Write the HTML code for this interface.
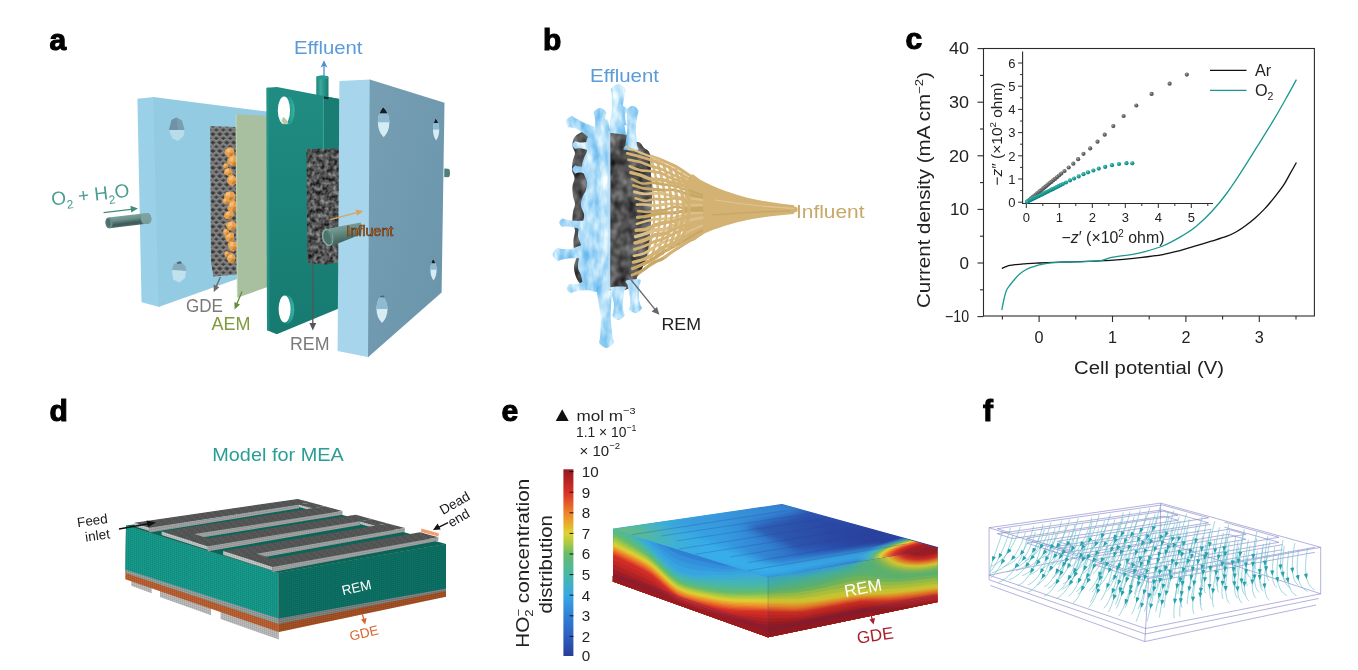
<!DOCTYPE html>
<html lang="en">
<head>
<meta charset="utf-8">
<title>Figure</title>
<style>
html,body{margin:0;padding:0;background:#fff;}
body{width:1358px;height:670px;overflow:hidden;font-family:"Liberation Sans",sans-serif;}
svg{display:block;position:absolute;left:0;top:0;}
svg text{font-family:"Liberation Sans",sans-serif;}
.lbl{font-weight:bold;font-size:30px;fill:#000;stroke:#000;stroke-width:1.1px;}
</style>
</head>
<body>
<svg width="1358" height="670" viewBox="0 0 1358 670">
<g id="panel-defs">
<defs>
<radialGradient id="gdot" cx="0.38" cy="0.35" r="0.7"><stop offset="0" stop-color="#a8a8a8"/><stop offset="0.45" stop-color="#6a6a6a"/><stop offset="1" stop-color="#3d3d3d"/></radialGradient>
<radialGradient id="tdot" cx="0.38" cy="0.35" r="0.7"><stop offset="0" stop-color="#5fd0c6"/><stop offset="0.45" stop-color="#17a096"/><stop offset="1" stop-color="#0a7a72"/></radialGradient>
</defs>
<defs>
<pattern id="gridL" width="2" height="2" patternUnits="userSpaceOnUse" patternTransform="matrix(1,0.3137,0,1,126,526)">
<path d="M0,0H2M0,0V2" stroke="#064a42" stroke-width="0.6" fill="none" opacity="0.55"/>
</pattern>
<pattern id="gridR" width="2" height="2" patternUnits="userSpaceOnUse" patternTransform="matrix(1,-0.174,0,1,278.8,573)">
<path d="M0,0H2M0,0V2" stroke="#02332d" stroke-width="0.6" fill="none" opacity="0.55"/>
</pattern>
<pattern id="gridLg" width="2" height="2" patternUnits="userSpaceOnUse" patternTransform="matrix(1,0.3137,0,1,126,526)">
<path d="M0,0H2M0,0V2" stroke="#555" stroke-width="0.5" fill="none" opacity="0.6"/>
</pattern>
<pattern id="gridRg" width="2" height="2" patternUnits="userSpaceOnUse" patternTransform="matrix(1,-0.174,0,1,278.8,573)">
<path d="M0,0H2M0,0V2" stroke="#444" stroke-width="0.5" fill="none" opacity="0.6"/>
</pattern>
<pattern id="gridTop" width="2.6" height="2.6" patternUnits="userSpaceOnUse" patternTransform="matrix(1,-0.146,1,0.3137,134,523)">
<path d="M0,0H2.6M0,0V2.6" stroke="#2e2e2e" stroke-width="0.5" fill="none" opacity="0.55"/>
</pattern>
</defs>

</g>
<g id="panel-a">
<defs>
<filter id="foam" x="0" y="0" width="1" height="1" color-interpolation-filters="sRGB">
<feTurbulence type="fractalNoise" baseFrequency="0.24 0.22" numOctaves="2" seed="4" result="t"/>
<feColorMatrix in="t" type="matrix" values="0.8 0 0 0 -0.08  0.8 0 0 0 -0.08  0.8 0 0 0 -0.08  0 0 0 0 1" result="g"/>
<feComposite in="g" in2="SourceGraphic" operator="in"/>
</filter>
<pattern id="weave" width="7" height="8.4" patternUnits="userSpaceOnUse" patternTransform="translate(209.6,125)">
<rect width="7" height="8.4" fill="#3a3a3a"/>
<path d="M-1,1.6 L3.2,4.4 M3.8,4.0 L8,1.2 M-1,8.6 L2.6,6.2 M3.4,6.0 L8,9.2 M-1,0.2 L1.6,-1.4 M5.4,-1 L8,0.8" stroke="#767676" stroke-width="2.5" stroke-linecap="round" fill="none"/>
<path d="M-0.4,1.2 L2.6,3.2 M4.4,2.9 L7.2,1.0 M3.8,5.6 L6.8,7.6 M-0.6,7.6 L2,5.8" stroke="#9b9b9b" stroke-width="0.9" stroke-linecap="round" fill="none"/>
</pattern>
<linearGradient id="aTeal" x1="0" y1="0" x2="0" y2="1"><stop offset="0" stop-color="#208c82"/><stop offset="1" stop-color="#167a70"/></linearGradient>
<linearGradient id="aRight" x1="0" y1="0" x2="1" y2="1"><stop offset="0" stop-color="#769fb4"/><stop offset="1" stop-color="#6a94aa"/></linearGradient>
<linearGradient id="aPipeV" x1="0" y1="0" x2="1" y2="0"><stop offset="0" stop-color="#1f8379"/><stop offset="0.35" stop-color="#3aa89b"/><stop offset="1" stop-color="#187a70"/></linearGradient>
<linearGradient id="aPipeH" x1="0" y1="0" x2="0" y2="1"><stop offset="0" stop-color="#7da19d"/><stop offset="0.35" stop-color="#6a8f8a"/><stop offset="0.75" stop-color="#3d5a57"/><stop offset="1" stop-color="#4b6b67"/></linearGradient>
<linearGradient id="aPipeI" x1="0" y1="0" x2="0.25" y2="1"><stop offset="0" stop-color="#84a8a3"/><stop offset="0.4" stop-color="#6d938d"/><stop offset="0.85" stop-color="#456560"/><stop offset="1" stop-color="#507570"/></linearGradient>
<linearGradient id="aHoleT" x1="0" y1="0" x2="1" y2="0"><stop offset="0" stop-color="#0f5f57"/><stop offset="0.6" stop-color="#1f9389"/><stop offset="1" stop-color="#3ab3a6"/></linearGradient>
</defs>
<path d="M137.4,98.8 L154,97 L159.3,307 L141.5,302.2Z" fill="#9bd1e8"/>
<path d="M153.2,97 L267,111.6 L267,268.4 L158.5,307Z" fill="#93cbe3"/>
<path d="M171.6,120 L176.5,117.6 L182,120.6 L184.6,130 L169,130 Z" fill="#7a9db0"/>
<path d="M169,130 L184.6,130 L183.6,136 L178,141 L172.4,138.6 Z" fill="#b9dcea"/>
<path d="M171.6,120 L176.5,117.6 L178,130 L169,130Z" fill="#6f93a6"/>
<path d="M173.6,264.4 L179.6,261 L185.6,266.6 L186,271 L172,270Z" fill="#86abbd"/>
<path d="M172,270 L186,271 L185,278 L179.6,282.6 L173,279.6Z" fill="#c1e1ee"/>
<path d="M176.6,262.2 L180.6,261.2 L182,263.4 L177.6,264Z" fill="#4b6a78"/>
<path d="M210.2,126.2 L236.6,127 L236.8,274.6 L213.4,276.4 L211,262Z" fill="url(#weave)"/>
<path d="M234.5,152.0 L233.5,155.3 L230.5,157.9 L227.0,156.3 L224.7,153.7 L224.6,150.2 L227.3,148.2 L230.4,147.0 L233.6,148.6Z" fill="#e7a04e"/>
<path d="M226.8,149.0 L230.9,148.2 L230.1,151.7 L226.5,152.6Z" fill="#f4bd7c"/>
<path d="M230.6,153.1 L233.9,152.6 L232.2,156.4 L228.9,155.8Z" fill="#c9802f"/>
<path d="M238.2,161.0 L235.7,164.2 L233.3,166.4 L230.4,165.3 L227.1,163.3 L227.3,158.8 L230.5,156.9 L233.6,153.9 L237.2,156.4Z" fill="#e7a04e"/>
<path d="M229.8,157.4 L233.9,156.4 L233.1,160.7 L229.5,161.7Z" fill="#f4bd7c"/>
<path d="M233.6,162.3 L236.9,161.7 L235.2,166.2 L231.9,165.6Z" fill="#c9802f"/>
<path d="M232.9,172.0 L231.7,175.1 L228.7,175.9 L226.2,175.1 L223.6,173.6 L224.5,170.7 L226.0,168.6 L228.7,168.0 L230.8,169.6Z" fill="#e7a04e"/>
<path d="M225.5,169.2 L229.2,168.5 L228.5,171.8 L225.2,172.5Z" fill="#f4bd7c"/>
<path d="M229.0,173.0 L232.0,172.5 L230.5,176.0 L227.5,175.5Z" fill="#c9802f"/>
<path d="M237.0,180.0 L235.8,183.5 L233.0,186.2 L229.4,184.8 L227.0,182.0 L227.2,178.1 L229.3,174.9 L232.9,174.7 L235.5,176.8Z" fill="#e7a04e"/>
<path d="M229.2,176.7 L233.4,175.8 L232.6,179.7 L229.0,180.6Z" fill="#f4bd7c"/>
<path d="M233.1,181.2 L236.4,180.6 L234.8,184.8 L231.4,184.2Z" fill="#c9802f"/>
<path d="M235.7,196.0 L234.1,200.3 L230.1,202.2 L226.0,201.2 L224.2,197.7 L224.4,194.3 L226.5,191.7 L229.8,191.6 L233.7,192.0Z" fill="#e7a04e"/>
<path d="M226.0,192.7 L230.5,191.8 L229.6,195.7 L225.7,196.6Z" fill="#f4bd7c"/>
<path d="M230.2,197.2 L233.8,196.6 L232.0,200.8 L228.4,200.2Z" fill="#c9802f"/>
<path d="M237.3,206.0 L237.0,210.4 L233.3,211.6 L229.5,212.2 L227.0,208.4 L228.8,204.4 L230.3,201.5 L233.5,199.1 L236.3,202.2Z" fill="#e7a04e"/>
<path d="M229.8,202.4 L233.9,201.4 L233.1,205.7 L229.5,206.7Z" fill="#f4bd7c"/>
<path d="M233.6,207.3 L236.9,206.7 L235.2,211.2 L231.9,210.6Z" fill="#c9802f"/>
<path d="M234.1,215.0 L231.9,217.8 L229.2,218.7 L226.1,219.2 L223.7,216.8 L224.6,213.6 L226.6,211.7 L229.2,210.8 L232.7,211.4Z" fill="#e7a04e"/>
<path d="M226.0,212.2 L229.8,211.5 L229.0,214.8 L225.8,215.5Z" fill="#f4bd7c"/>
<path d="M229.5,216.0 L232.5,215.5 L231.0,219.0 L228.0,218.5Z" fill="#c9802f"/>
<path d="M237.1,226.0 L234.5,229.0 L231.9,230.8 L228.7,230.0 L226.8,227.5 L225.1,223.9 L228.6,221.9 L232.0,220.4 L235.1,222.5Z" fill="#e7a04e"/>
<path d="M228.0,222.7 L232.5,221.8 L231.6,225.7 L227.7,226.6Z" fill="#f4bd7c"/>
<path d="M232.2,227.2 L235.8,226.6 L234.0,230.8 L230.4,230.2Z" fill="#c9802f"/>
<path d="M233.9,237.0 L233.8,240.6 L230.2,241.2 L226.8,241.7 L225.5,238.4 L224.9,235.3 L227.3,233.2 L230.3,232.5 L234.2,233.1Z" fill="#e7a04e"/>
<path d="M226.8,234.0 L230.9,233.2 L230.1,236.7 L226.5,237.6Z" fill="#f4bd7c"/>
<path d="M230.6,238.1 L233.9,237.6 L232.2,241.4 L228.9,240.8Z" fill="#c9802f"/>
<path d="M237.7,246.0 L235.7,249.2 L233.4,252.3 L230.5,250.2 L228.4,247.8 L227.5,243.8 L230.1,240.9 L233.2,241.5 L236.8,241.7Z" fill="#e7a04e"/>
<path d="M230.0,242.7 L233.8,241.8 L233.0,245.7 L229.8,246.6Z" fill="#f4bd7c"/>
<path d="M233.5,247.2 L236.5,246.6 L235.0,250.8 L232.0,250.2Z" fill="#c9802f"/>
<path d="M235.4,258.0 L234.5,260.9 L232.0,263.6 L228.7,262.1 L226.7,259.6 L227.1,256.6 L228.9,254.4 L231.9,252.8 L234.4,255.1Z" fill="#e7a04e"/>
<path d="M228.2,255.0 L232.4,254.2 L231.6,257.7 L228.0,258.6Z" fill="#f4bd7c"/>
<path d="M232.1,259.1 L235.4,258.6 L233.8,262.4 L230.4,261.9Z" fill="#c9802f"/>
<path d="M229.3,232.0 L228.3,234.0 L226.5,235.2 L224.1,235.4 L223.1,233.1 L223.0,230.8 L224.2,228.7 L226.5,229.2 L228.0,230.2Z" fill="#e7a04e"/>
<path d="M224.3,230.0 L226.8,229.5 L226.3,231.8 L224.1,232.4Z" fill="#f4bd7c"/>
<path d="M226.7,232.7 L228.7,232.4 L227.7,234.9 L225.7,234.5Z" fill="#c9802f"/>
<path d="M229.1,201.0 L228.2,203.4 L226.1,203.9 L224.3,203.5 L222.5,202.3 L222.3,199.7 L224.3,198.5 L226.2,197.1 L228.2,198.5Z" fill="#e7a04e"/>
<path d="M224.0,199.0 L226.4,198.5 L225.9,200.8 L223.8,201.4Z" fill="#f4bd7c"/>
<path d="M226.2,201.7 L228.2,201.4 L227.2,203.9 L225.3,203.5Z" fill="#c9802f"/>
<path d="M228.5,166.0 L227.6,167.8 L226.0,168.4 L224.5,168.0 L222.5,167.2 L223.3,165.1 L224.1,163.2 L226.0,163.4 L228.0,163.8Z" fill="#e7a04e"/>
<path d="M224.1,164.2 L226.3,163.8 L225.9,165.8 L223.9,166.3Z" fill="#f4bd7c"/>
<path d="M226.2,166.6 L228.0,166.3 L227.1,168.6 L225.3,168.2Z" fill="#c9802f"/>
<path d="M229.5,254.0 L228.5,255.7 L227.0,256.5 L225.1,256.8 L224.5,254.8 L224.3,253.1 L225.2,251.4 L227.2,250.7 L228.8,252.0Z" fill="#e7a04e"/>
<path d="M225.1,252.2 L227.3,251.8 L226.9,253.8 L224.9,254.3Z" fill="#f4bd7c"/>
<path d="M227.2,254.6 L229.0,254.3 L228.1,256.6 L226.3,256.2Z" fill="#c9802f"/>
<path d="M236.1,114 L267,115.9 L267,287.3 L237.4,297.7Z" fill="#a9c0a0"/>
<path d="M236.1,114 L237.4,297.7" stroke="#c4d6b4" stroke-width="1" fill="none"/>
<path d="M316.3,77.4 L316.3,96 L328.5,98 L328.5,77.4 A6.1,1.9 0 0 0 316.3,77.4Z" fill="url(#aPipeV)"/>
<ellipse cx="322.4" cy="77.4" rx="6.1" ry="1.9" fill="#2a9a8e"/>
<path d="M266.5,87.7 L276.9,87 L339.4,99 L339.4,308.2 L276.8,334.3 L267,330.2Z" fill="url(#aTeal)"/>
<path d="M266.5,87.7 L269,87.5 L269.6,331.3 L267,330.2Z" fill="#2b9a8f" opacity="0.6"/>
<path d="M323.1,95.9 L339.4,99 L339.4,150 L323.1,150Z" fill="#197d73"/>
<path d="M323.4,96 L323.4,150" stroke="#3aa597" stroke-width="1" fill="none"/>
<path d="M323.6,96.4 L329,97.4 L328,99.2 L324,98.6Z" fill="#0b2e2a"/>
<ellipse cx="286.7" cy="110.6" rx="8" ry="15" fill="url(#aHoleT)"/>
<path d="M284.8,96 A7,14.4 0 0 0 284.8,124.8 A5.4,14.4 0 0 1 284.8,96Z" fill="#fff"/>
<ellipse cx="284.4" cy="110.2" rx="5.6" ry="13.8" fill="#fff"/>
<path d="M281.5,121 Q284.6,126 288.6,123.6 Q286,118 283,117Z" fill="#b9c9a6"/>
<ellipse cx="286.5" cy="309.5" rx="7.8" ry="14.6" fill="url(#aHoleT)"/>
<ellipse cx="284.6" cy="309.0" rx="6.0" ry="13.6" fill="#fff"/>
<path d="M306.4,149 L339.4,148.4 L339.4,262 L326,264.4 L307.4,263Z" fill="#444" filter="url(#foam)"/>
<path d="M339.4,80.9 L370.5,79.4 L368.8,357.2 L337.6,350.9Z" fill="#a7d5eb"/>
<path d="M369.7,79.4 L444.5,102.8 L441.6,292.6 L368,357.2Z" fill="url(#aRight)"/>
<path d="M444.3,168.4 L448,168.7 A2,4.3 0 0 1 448,177.3 L444.2,177Z" fill="#4f7f7a"/>
<clipPath id="ah1"><path d="M383.2,107.3 Q389.4,113.3 389.4,122.3 Q389.4,131.3 383.7,137.3 Q377.9,131.3 377.9,122.3 Q377.9,113.3 383.2,107.3Z"/></clipPath><g clip-path="url(#ah1)"><rect x="376.9" y="106.3" width="13.5" height="32.0" fill="#d6ecf5"/><rect x="376.9" y="106.3" width="13.5" height="16.0" fill="#8fbad2"/><rect x="376.9" y="106.3" width="13.5" height="7.0" fill="#141e26"/></g>
<clipPath id="ah2"><path d="M435.6,118.6 Q439.2,123.0 439.2,129.6 Q439.2,136.2 436.1,140.6 Q433.0,136.2 433.0,129.6 Q433.0,123.0 435.6,118.6Z"/></clipPath><g clip-path="url(#ah2)"><rect x="432.0" y="117.6" width="8.3" height="24.0" fill="#d6ecf5"/><rect x="432.0" y="117.6" width="8.3" height="12.0" fill="#8fbad2"/><rect x="432.0" y="117.6" width="8.3" height="5.4" fill="#141e26"/></g>
<clipPath id="ah3"><path d="M381.5,295.0 Q387.5,300.6 387.5,309.0 Q387.5,317.4 382.0,323.0 Q376.5,317.4 376.5,309.0 Q376.5,300.6 381.5,295.0Z"/></clipPath><g clip-path="url(#ah3)"><rect x="375.5" y="294.0" width="13.0" height="30.0" fill="#d6ecf5"/><rect x="375.5" y="294.0" width="13.0" height="15.0" fill="#8fbad2"/></g>
<clipPath id="ah4"><path d="M433.0,258.9 Q436.6,263.2 436.6,269.7 Q436.6,276.1 433.5,280.4 Q430.4,276.1 430.4,269.7 Q430.4,263.2 433.0,258.9Z"/></clipPath><g clip-path="url(#ah4)"><rect x="429.4" y="257.9" width="8.3" height="23.5" fill="#d6ecf5"/><rect x="429.4" y="257.9" width="8.3" height="11.8" fill="#8fbad2"/><rect x="429.4" y="257.9" width="8.3" height="5.3" fill="#141e26"/></g>
<path d="M380.6,295.4 L383.6,295.6 L384.6,297.4 L379.6,297.2Z" fill="#4a6a7c"/>
<path d="M328.6,228.6 L360.7,222.4 Q362.6,228 361.2,234.2 L331.5,246Z" fill="url(#aPipeI)"/>
<ellipse cx="327.6" cy="237.4" rx="5.6" ry="9" transform="rotate(-14 327.6 237.4)" fill="#86aaa4"/>
<ellipse cx="327.9" cy="237.5" rx="4.3" ry="7.4" transform="rotate(-14 327.9 237.5)" fill="#4d726d"/>
<path d="M326,231.4 Q330.6,233 331.4,243.6 Q333.4,237 331,231.6Z" fill="#5f8782"/>
<path d="M324,76 L324,64" stroke="#4d8fd0" stroke-width="1.3" fill="none"/><path d="M324,60.2 L327.4,67.6 L324,65.8 L320.6,67.6Z" fill="#4d8fd0"/>
<text x="294" y="53.7" font-size="18.5" fill="#5b9bd8" textLength="68.5" lengthAdjust="spacingAndGlyphs">Effluent</text>
<g transform="rotate(-6.8 128 220.6)"><rect x="105.4" y="215.3" width="46" height="10.7" rx="3.4" ry="5.3" fill="url(#aPipeH)"/><rect x="105.4" y="215.3" width="7" height="10.7" rx="3" ry="5.3" fill="#6a8d89"/><ellipse cx="108.2" cy="220.6" rx="2.2" ry="4.4" fill="#4f706c"/><rect x="141" y="215.3" width="10.4" height="10.7" rx="3" ry="5.3" fill="#7fa5a3" opacity="0.9"/></g>
<path d="M103.6,212.6 L133,209.1" stroke="#3f8f7c" stroke-width="1.4" fill="none"/><path d="M138,208.5 L130.4,205.8 L131.2,212.6Z" fill="#3f8f7c"/>
<text transform="translate(52,205.6) rotate(-6.6)" font-size="19" fill="#4a9d93" textLength="78.5" lengthAdjust="spacingAndGlyphs">O<tspan font-size="12" dy="5">2</tspan><tspan dy="-5"> + H</tspan><tspan font-size="12" dy="5">2</tspan><tspan dy="-5">O</tspan></text>
<path d="M220.4,277 L215.6,288" stroke="#6b6b6b" stroke-width="1.4" fill="none"/><path d="M213.8,292 L213.6,284.6 L219.4,287.2Z" fill="#6b6b6b"/>
<text x="186" y="312" font-size="17.5" fill="#7a7a7a" textLength="37" lengthAdjust="spacingAndGlyphs">GDE</text>
<path d="M242,291.4 L236.4,305" stroke="#5f8f3c" stroke-width="1.3" fill="none"/><path d="M234.6,309.4 L234.4,302 L240,304.4Z" fill="#5f8f3c"/>
<text x="211.5" y="329.5" font-size="17.5" fill="#7d9a3e" textLength="39" lengthAdjust="spacingAndGlyphs">AEM</text>
<path d="M312.8,264.5 L312.8,325" stroke="#555" stroke-width="1.3" fill="none"/><path d="M312.8,330.6 L309.4,323 L316.2,323Z" fill="#555"/>
<text x="290" y="350.2" font-size="17.5" fill="#7a7a7a" textLength="39.5" lengthAdjust="spacingAndGlyphs">REM</text>
<path d="M330.3,219.6 L357.6,212.4" stroke="#d9a366" stroke-width="1.4" fill="none"/><path d="M363.2,211 L355.6,209.4 L357.2,215.8Z" fill="#d9a366"/>
<text x="346.3" y="235.6" font-size="14" fill="#d27f30" stroke="#5a2a0a" stroke-width="0.6" textLength="47" lengthAdjust="spacingAndGlyphs">Influent</text>
</g>
<g id="panel-b">
<defs>
<filter id="bBlue" x="-0.05" y="-0.05" width="1.1" height="1.1" color-interpolation-filters="sRGB">
<feTurbulence type="fractalNoise" baseFrequency="0.1 0.04" numOctaves="3" seed="8" result="t"/>
<feColorMatrix in="t" type="matrix" values="0.95 0 0 0 0.2  0.48 0 0 0 0.62  0.12 0 0 0 0.91  0 0 0 0 1" result="g"/>
<feComposite in="g" in2="SourceGraphic" operator="in"/>
</filter>
<filter id="bGray" x="-0.05" y="-0.05" width="1.1" height="1.1" color-interpolation-filters="sRGB">
<feTurbulence type="fractalNoise" baseFrequency="0.11 0.09" numOctaves="2" seed="2" result="t"/>
<feColorMatrix in="t" type="matrix" values="0.6 0 0 0 0.02  0.6 0 0 0 0.02  0.6 0 0 0 0.025  0 0 0 0 1" result="g"/>
<feComposite in="g" in2="SourceGraphic" operator="in"/>
</filter>
</defs>
<path d="M588.0,131.0 C583.0,131.0 582.3,131.8 580.0,133.0 C577.7,134.2 575.2,135.8 574.0,138.0 C572.8,140.2 572.3,143.5 572.5,146.0 C572.7,148.5 574.9,150.7 575.0,153.0 C575.1,155.3 573.5,157.2 573.0,160.0 C572.5,162.8 571.8,167.0 572.0,170.0 C572.2,173.0 574.4,175.3 574.5,178.0 C574.6,180.7 572.8,183.0 572.5,186.0 C572.2,189.0 572.6,193.0 573.0,196.0 C573.4,199.0 575.0,201.3 575.0,204.0 C575.0,206.7 573.4,209.0 573.0,212.0 C572.6,215.0 572.2,219.0 572.5,222.0 C572.8,225.0 574.8,227.0 575.0,230.0 C575.2,233.0 573.7,236.7 573.5,240.0 C573.3,243.3 573.6,247.0 574.0,250.0 C574.4,253.0 576.0,255.3 576.0,258.0 C576.0,260.7 574.2,263.3 574.0,266.0 C573.8,268.7 574.3,271.5 575.0,274.0 C575.7,276.5 576.5,278.8 578.0,281.0 C579.5,283.2 581.7,285.7 584.0,287.0 C586.3,288.3 589.3,288.7 592.0,289.0 C594.7,289.3 597.0,288.8 600.0,289.0 C603.0,289.2 606.3,289.8 610.0,290.0 C613.7,290.2 618.7,290.3 622.0,290.0 C625.3,289.7 627.8,289.2 630.0,288.0 C632.2,286.8 633.8,284.8 635.0,283.0 C636.2,281.2 636.0,279.2 637.0,277.0 C638.0,274.8 639.7,272.5 641.0,270.0 C642.3,267.5 643.8,265.3 645.0,262.0 C646.2,258.7 647.2,254.5 648.0,250.0 C648.8,245.5 649.5,240.8 650.0,235.0 C650.5,229.2 650.7,221.7 651.0,215.0 C651.3,208.3 652.0,201.7 652.0,195.0 C652.0,188.3 651.3,180.8 651.0,175.0 C650.7,169.2 650.3,163.8 650.0,160.0 C649.7,156.2 650.0,154.0 649.0,152.0 C648.0,150.0 645.5,149.5 644.0,148.0 C642.5,146.5 641.7,144.2 640.0,143.0 C638.3,141.8 636.0,142.2 634.0,141.0 C632.0,139.8 630.3,137.2 628.0,136.0 C625.7,134.8 623.0,134.5 620.0,134.0 C617.0,133.5 615.3,133.5 610.0,133.0 C604.7,132.5 593.0,131.0 588.0,131.0Z" fill="#444" filter="url(#bGray)"/>
<path d="M684.0,208.0 C684.0,197.2 686.5,179.6 690.0,175.5 C693.5,171.4 700.2,181.3 705.0,183.7 C709.8,186.1 714.3,188.1 719.0,190.0 C723.7,191.9 728.7,193.5 733.4,195.0 C738.1,196.5 742.3,197.8 747.0,199.0 C751.7,200.2 756.6,201.2 761.8,202.1 C767.0,203.0 772.8,203.9 778.0,204.6 C783.2,205.3 789.9,206.0 793.0,206.4 C796.1,206.8 796.0,206.7 796.8,207.2 C797.6,207.7 797.6,208.7 797.6,209.5 C797.6,210.3 797.6,211.3 796.8,211.8 C796.0,212.3 796.1,212.2 793.0,212.6 C789.9,213.0 783.2,213.6 778.0,214.2 C772.8,214.8 767.0,215.5 761.8,216.3 C756.6,217.1 751.7,217.9 747.0,218.8 C742.3,219.8 738.1,220.7 733.4,222.0 C728.7,223.3 723.7,224.8 719.0,226.5 C714.3,228.2 709.8,229.7 705.0,231.9 C700.2,234.2 693.5,244.0 690.0,240.0 C686.5,236.0 684.0,218.8 684.0,208.0Z" fill="#d3b273"/>
<path d="M626.0,147.0 C627.9,147.7 633.4,149.8 637.1,151.3 C640.8,152.8 644.5,154.3 648.2,155.8 C651.9,157.3 655.6,158.8 659.3,160.2 C663.0,161.7 666.1,162.3 670.4,164.4 C674.7,166.6 679.9,170.2 685.2,173.2 C690.5,176.1 699.2,180.6 702.0,182.1" fill="none" stroke="#dcc088" stroke-width="2.3" stroke-linecap="round"/>
<path d="M627.2,153.4 C629.0,153.9 634.5,155.2 638.1,156.2 C641.8,157.2 645.4,158.2 649.0,159.4 C652.7,160.6 656.3,161.8 660.0,163.3 C663.6,164.8 666.6,165.9 670.9,168.2 C675.1,170.4 680.3,174.0 685.4,176.7 C690.6,179.5 699.2,183.3 702.0,184.6" fill="none" stroke="#d3b273" stroke-width="2.8" stroke-linecap="round"/>
<path d="M628.4,159.8 C630.2,160.1 635.6,160.8 639.1,161.8 C642.7,162.8 646.3,164.5 649.9,165.7 C653.5,166.9 657.0,167.4 660.6,168.8 C664.2,170.2 667.2,172.2 671.4,174.1 C675.5,176.0 680.6,178.0 685.7,180.2 C690.8,182.4 699.3,186.0 702.0,187.2" fill="none" stroke="#d3b273" stroke-width="2.5" stroke-linecap="round"/>
<path d="M629.6,166.2 C631.4,166.9 636.6,169.4 640.2,170.2 C643.7,171.0 647.2,170.6 650.7,171.1 C654.2,171.6 657.8,172.0 661.3,173.2 C664.8,174.4 667.7,176.9 671.8,178.5 C675.9,180.1 680.9,180.8 685.9,182.7 C690.9,184.6 699.3,188.6 702.0,189.8" fill="none" stroke="#d3b273" stroke-width="2.6" stroke-linecap="round"/>
<path d="M630.8,172.6 C632.5,173.1 637.7,174.2 641.2,175.3 C644.6,176.4 648.1,178.6 651.6,179.3 C655.0,180.0 658.5,179.2 661.9,179.8 C665.4,180.3 668.3,181.5 672.3,182.5 C676.4,183.6 681.2,184.7 686.2,186.3 C691.1,187.9 699.4,191.3 702.0,192.4" fill="none" stroke="#d3b273" stroke-width="3.5" stroke-linecap="round"/>
<path d="M632.0,179.0 C633.7,179.8 638.8,182.9 642.2,183.5 C645.6,184.1 649.0,182.6 652.4,182.8 C655.8,182.9 659.2,183.8 662.6,184.3 C666.0,184.8 668.8,184.8 672.8,185.7 C676.8,186.6 681.5,188.2 686.4,189.7 C691.3,191.3 699.4,194.1 702.0,194.9" fill="none" stroke="#c9a766" stroke-width="2.4" stroke-linecap="round"/>
<path d="M633.2,185.4 C634.9,185.9 639.9,187.8 643.2,188.4 C646.6,189.1 649.9,188.8 653.2,189.1 C656.6,189.4 659.9,190.1 663.3,190.2 C666.6,190.4 669.4,189.3 673.3,189.9 C677.2,190.5 681.9,192.4 686.6,193.7 C691.4,195.0 699.4,196.9 702.0,197.5" fill="none" stroke="#c9a766" stroke-width="2.7" stroke-linecap="round"/>
<path d="M634.4,191.8 C636.0,192.2 641.0,193.7 644.2,193.9 C647.5,194.1 650.8,193.2 654.1,193.2 C657.4,193.2 660.6,193.4 663.9,193.9 C667.2,194.4 669.9,195.6 673.8,196.3 C677.6,197.1 682.2,197.7 686.9,198.4 C691.6,199.0 699.5,199.8 702.0,200.1" fill="none" stroke="#dcc088" stroke-width="2.8" stroke-linecap="round"/>
<path d="M635.6,198.2 C637.2,198.6 642.0,200.6 645.3,200.8 C648.5,200.9 651.7,199.2 654.9,199.0 C658.1,198.8 661.4,199.7 664.6,199.6 C667.8,199.5 670.5,198.3 674.2,198.4 C678.0,198.4 682.5,199.3 687.1,200.0 C691.7,200.7 699.5,202.2 702.0,202.6" fill="none" stroke="#d3b273" stroke-width="2.5" stroke-linecap="round"/>
<path d="M636.8,204.6 C638.4,204.6 643.1,204.4 646.3,204.6 C649.4,204.7 652.6,205.7 655.8,205.7 C658.9,205.6 662.1,204.4 665.2,204.1 C668.4,203.8 671.0,203.6 674.7,203.8 C678.4,204.0 682.8,204.9 687.4,205.1 C691.9,205.4 699.6,205.2 702.0,205.2" fill="none" stroke="#dcc088" stroke-width="2.6" stroke-linecap="round"/>
<path d="M638.0,211.0 C639.5,211.1 644.2,211.9 647.3,211.9 C650.4,211.8 653.5,211.0 656.6,210.7 C659.7,210.4 662.8,210.5 665.9,209.8 C669.0,209.2 671.6,207.0 675.2,206.8 C678.8,206.6 683.1,208.5 687.6,208.6 C692.1,208.8 699.6,207.9 702.0,207.8" fill="none" stroke="#c9a766" stroke-width="2.4" stroke-linecap="round"/>
<path d="M637.4,217.4 C639.0,217.2 643.7,216.9 646.8,216.3 C649.9,215.7 653.0,214.5 656.2,213.9 C659.3,213.4 662.4,213.2 665.6,213.0 C668.7,212.8 671.3,213.1 675.0,212.7 C678.6,212.2 683.0,210.7 687.5,210.3 C692.0,210.0 699.6,210.4 702.0,210.4" fill="none" stroke="#c9a766" stroke-width="3.2" stroke-linecap="round"/>
<path d="M636.8,223.8 C638.4,223.3 643.1,221.9 646.3,221.1 C649.4,220.3 652.6,219.6 655.8,219.2 C658.9,218.9 662.1,219.2 665.2,218.9 C668.4,218.7 671.0,218.5 674.7,217.6 C678.4,216.8 682.8,214.7 687.4,213.9 C691.9,213.1 699.6,213.1 702.0,212.9" fill="none" stroke="#dcc088" stroke-width="2.4" stroke-linecap="round"/>
<path d="M636.2,230.2 C637.8,230.0 642.6,230.1 645.8,229.2 C649.0,228.4 652.1,226.3 655.3,225.1 C658.5,224.0 661.7,223.2 664.9,222.5 C668.1,221.9 670.8,222.0 674.5,221.1 C678.2,220.2 682.7,218.2 687.2,217.3 C691.8,216.4 699.5,215.8 702.0,215.5" fill="none" stroke="#d3b273" stroke-width="3.6" stroke-linecap="round"/>
<path d="M635.6,236.6 C637.2,236.1 642.0,234.8 645.3,233.7 C648.5,232.6 651.7,230.8 654.9,230.1 C658.1,229.4 661.4,230.2 664.6,229.4 C667.8,228.6 670.5,226.6 674.2,225.2 C678.0,223.7 682.5,221.9 687.1,220.7 C691.7,219.5 699.5,218.5 702.0,218.1" fill="none" stroke="#dcc088" stroke-width="3.5" stroke-linecap="round"/>
<path d="M635.0,243.0 C636.6,242.5 641.5,241.3 644.8,240.0 C648.0,238.8 651.2,236.3 654.5,235.3 C657.8,234.3 661.0,235.0 664.2,233.9 C667.5,232.8 670.2,230.4 674.0,228.9 C677.8,227.3 682.3,226.2 687.0,224.8 C691.7,223.4 699.5,221.3 702.0,220.7" fill="none" stroke="#d3b273" stroke-width="3.6" stroke-linecap="round"/>
<path d="M634.4,249.4 C636.0,248.9 641.0,247.4 644.2,246.2 C647.5,244.9 650.8,243.1 654.1,241.8 C657.4,240.6 660.6,239.9 663.9,238.5 C667.2,237.2 669.9,235.4 673.8,233.7 C677.6,231.9 682.2,229.7 686.9,227.9 C691.6,226.2 699.5,224.0 702.0,223.2" fill="none" stroke="#d3b273" stroke-width="2.8" stroke-linecap="round"/>
<path d="M633.8,255.8 C635.5,255.4 640.4,254.9 643.7,253.5 C647.0,252.2 650.4,249.4 653.7,247.5 C657.0,245.5 660.3,243.3 663.6,242.0 C666.9,240.6 669.7,240.7 673.5,239.2 C677.4,237.6 682.0,234.8 686.8,232.6 C691.5,230.3 699.5,226.9 702.0,225.8" fill="none" stroke="#dcc088" stroke-width="2.5" stroke-linecap="round"/>
<path d="M633.2,262.2 C634.9,261.8 639.9,260.9 643.2,259.6 C646.6,258.2 649.9,256.1 653.2,254.1 C656.6,252.0 659.9,249.3 663.3,247.5 C666.6,245.7 669.4,245.1 673.3,243.2 C677.2,241.3 681.9,238.4 686.6,235.9 C691.4,233.4 699.4,229.6 702.0,228.4" fill="none" stroke="#d3b273" stroke-width="3.2" stroke-linecap="round"/>
<path d="M632.6,268.6 C634.3,267.9 639.3,265.9 642.7,264.3 C646.1,262.8 649.5,261.2 652.8,259.1 C656.2,257.1 659.6,254.3 662.9,252.3 C666.3,250.2 669.1,249.1 673.0,246.9 C677.0,244.8 681.7,242.1 686.5,239.4 C691.3,236.7 699.4,232.4 702.0,230.9" fill="none" stroke="#c9a766" stroke-width="3.2" stroke-linecap="round"/>
<path d="M632.0,275.0 C633.7,274.3 638.8,272.5 642.2,270.5 C645.6,268.6 649.0,265.1 652.4,263.1 C655.8,261.2 659.2,260.9 662.6,258.9 C666.0,257.0 668.8,254.0 672.8,251.4 C676.8,248.7 681.5,245.9 686.4,242.9 C691.3,240.0 699.4,235.1 702.0,233.5" fill="none" stroke="#c9a766" stroke-width="2.7" stroke-linecap="round"/>
<path d="M627.0,148.6 C628.1,153.7 632.0,169.0 633.7,179.4 C635.4,189.9 637.4,200.7 637.4,211.3 C637.4,221.9 635.6,232.7 633.7,243.2 C631.8,253.6 627.3,268.9 626.0,274.0" fill="none" stroke="#d3b273" stroke-width="1.4" opacity="0.95"/>
<path d="M633.0,151.0 C634.1,156.0 637.9,171.0 639.6,181.2 C641.3,191.5 643.2,202.1 643.2,212.5 C643.2,222.9 641.4,233.5 639.6,243.8 C637.7,254.0 633.3,269.0 632.0,274.0" fill="none" stroke="#d3b273" stroke-width="1.6" opacity="0.95"/>
<path d="M639.0,153.4 C640.1,158.2 643.8,172.4 645.5,182.1 C647.1,191.9 648.9,201.9 648.9,211.8 C648.9,221.7 647.3,231.8 645.5,241.5 C643.6,251.3 639.2,265.5 638.0,270.2" fill="none" stroke="#d3b273" stroke-width="1.9" opacity="0.95"/>
<path d="M645.0,155.8 C646.1,160.3 649.7,173.7 651.3,182.9 C653.0,192.1 654.7,201.6 654.7,210.9 C654.7,220.3 653.1,229.8 651.3,239.0 C649.6,248.2 645.2,261.5 644.0,266.0" fill="none" stroke="#d3b273" stroke-width="2.1" opacity="0.95"/>
<path d="M651.0,158.1 C652.0,162.3 655.6,174.9 657.2,183.6 C658.8,192.2 660.4,201.2 660.4,210.1 C660.4,218.9 659.0,227.9 657.2,236.6 C655.5,245.3 651.2,257.8 650.0,262.1" fill="none" stroke="#d3b273" stroke-width="2.4" opacity="0.95"/>
<path d="M657.0,160.3 C658.0,164.3 661.6,176.1 663.1,184.3 C664.6,192.5 666.2,201.0 666.2,209.4 C666.2,217.7 664.8,226.3 663.1,234.4 C661.4,242.6 657.2,254.5 656.0,258.5" fill="none" stroke="#d3b273" stroke-width="2.6" opacity="0.95"/>
<path d="M663.0,162.8 C664.0,166.6 667.5,177.7 669.0,185.3 C670.5,193.0 672.0,201.0 672.0,208.8 C672.0,216.7 670.6,224.7 669.0,232.3 C667.3,240.0 663.2,251.1 662.0,254.9" fill="none" stroke="#d3b273" stroke-width="2.8" opacity="0.95"/>
<path d="M669.0,165.6 C670.0,169.0 673.4,179.3 674.9,186.4 C676.3,193.5 677.7,201.0 677.7,208.3 C677.7,215.5 676.5,223.0 674.9,230.1 C673.2,237.2 669.1,247.5 668.0,251.0" fill="none" stroke="#d3b273" stroke-width="3.1" opacity="0.95"/>
<path d="M675.0,168.6 C676.0,171.7 679.3,181.1 680.7,187.7 C682.2,194.2 683.5,201.1 683.5,207.8 C683.5,214.5 682.3,221.4 680.7,227.9 C679.2,234.5 675.1,243.8 674.0,247.0" fill="none" stroke="#d3b273" stroke-width="3.3" opacity="0.95"/>
<path d="M681.0,172.5 C681.9,175.4 685.2,183.8 686.6,189.7 C688.0,195.5 689.2,201.7 689.2,207.8 C689.2,213.8 688.2,220.0 686.6,225.9 C685.1,231.8 681.1,240.2 680.0,243.0" fill="none" stroke="#d3b273" stroke-width="3.6" opacity="0.95"/>
<path d="M628.5,147.0 C629.8,147.5 632.7,148.7 636.0,150.0 C639.3,151.3 644.1,153.3 648.4,155.0 C652.7,156.7 657.3,158.1 662.0,160.0 C666.7,161.9 672.0,164.1 676.7,166.7 C681.4,169.3 685.3,172.7 690.0,175.5 C694.7,178.3 700.2,181.3 705.0,183.7 C709.8,186.1 714.3,188.1 719.0,190.0 C723.7,191.9 728.7,193.5 733.4,195.0 C738.1,196.5 742.3,197.8 747.0,199.0 C751.7,200.2 756.6,201.2 761.8,202.1 C767.0,203.0 772.8,203.9 778.0,204.6 C783.2,205.3 790.5,206.1 793.0,206.4" fill="none" stroke="#d3b273" stroke-width="2.6" stroke-linecap="round"/>
<path d="M637.0,275.0 C638.3,274.0 642.2,271.0 645.0,269.0 C647.8,267.0 650.7,265.2 654.0,263.1 C657.3,261.0 661.2,258.9 665.0,256.5 C668.8,254.1 672.5,251.7 676.7,248.9 C680.9,246.2 685.3,242.8 690.0,240.0 C694.7,237.2 700.2,234.2 705.0,231.9 C709.8,229.7 714.3,228.2 719.0,226.5 C723.7,224.8 728.7,223.3 733.4,222.0 C738.1,220.7 742.3,219.8 747.0,218.8 C751.7,217.9 756.6,217.1 761.8,216.3 C767.0,215.5 772.8,214.8 778.0,214.2 C783.2,213.6 790.5,212.9 793.0,212.6" fill="none" stroke="#d3b273" stroke-width="2.6" stroke-linecap="round"/>
<path d="M715,200 C740,204 765,207 794,208.4" fill="none" stroke="#e4cb98" stroke-width="1.2" opacity="0.8"/>
<path d="M712,215 C740,213 765,211.4 790,210.8" fill="none" stroke="#c2a062" stroke-width="1.2" opacity="0.7"/>
<g fill="#8cc6ee" filter="url(#bBlue)"><path d="M610.0,131.0 C612.5,157.5 611.0,264.0 610.0,291.0 C609.0,318.0 606.3,292.8 604.0,293.0 C601.7,293.2 598.7,292.7 596.0,292.0 C593.3,291.3 590.2,290.5 588.0,289.0 C585.8,287.5 584.2,285.3 583.0,283.0 C581.8,280.7 581.8,277.5 581.0,275.0 C580.2,272.5 578.3,270.8 578.0,268.0 C577.7,265.2 578.3,261.0 579.0,258.0 C579.7,255.0 581.8,252.7 582.0,250.0 C582.2,247.3 580.7,244.3 580.0,242.0 C579.3,239.7 578.2,238.3 578.0,236.0 C577.8,233.7 578.2,230.3 579.0,228.0 C579.8,225.7 582.2,224.3 583.0,222.0 C583.8,219.7 584.3,216.7 584.0,214.0 C583.7,211.3 581.3,208.7 581.0,206.0 C580.7,203.3 581.2,200.7 582.0,198.0 C582.8,195.3 585.2,192.7 586.0,190.0 C586.8,187.3 587.3,184.7 587.0,182.0 C586.7,179.3 584.8,176.7 584.0,174.0 C583.2,171.3 582.0,168.7 582.0,166.0 C582.0,163.3 583.2,160.5 584.0,158.0 C584.8,155.5 586.7,153.3 587.0,151.0 C587.3,148.7 585.8,146.3 586.0,144.0 C586.2,141.7 586.5,139.0 588.0,137.0 C589.5,135.0 591.3,133.0 595.0,132.0 C598.7,131.0 607.5,104.5 610.0,131.0Z"/><path d="M627.1,137.7 C630.1,136.9 626.2,134.8 625.8,133.3 C625.5,131.8 625.3,130.3 625.0,128.8 C624.7,127.3 624.5,125.8 624.3,124.3 C624.0,122.8 623.8,121.4 623.6,120.0 C623.4,118.6 623.3,117.5 623.2,116.2 C623.1,114.9 622.9,113.5 622.9,112.2 C622.8,110.8 622.7,109.5 622.8,108.2 C622.8,106.9 622.9,105.5 623.1,104.3 C623.2,103.0 623.5,101.9 623.7,100.6 C623.9,99.4 624.1,98.2 624.3,96.9 C624.5,95.7 624.7,94.4 625.0,93.2 C625.2,92.0 626.8,91.0 625.7,89.5 C624.7,87.9 621.3,84.1 618.8,83.9 C616.4,83.8 612.5,87.1 611.3,88.5 C610.0,89.9 611.4,91.0 611.5,92.3 C611.6,93.6 611.7,94.8 611.7,96.1 C611.8,97.3 611.8,98.6 611.8,99.9 C611.9,101.1 611.9,102.4 611.9,103.7 C611.9,105.1 612.0,106.5 612.0,107.8 C612.0,109.2 611.8,110.5 611.6,111.8 C611.5,113.2 611.2,114.4 611.0,115.8 C610.8,117.2 610.6,118.5 610.4,120.0 C610.2,121.5 610.1,123.2 610.0,124.7 C609.8,126.2 609.7,127.7 609.5,129.2 C609.3,130.7 609.2,132.2 608.9,133.7 C608.7,135.2 604.9,137.6 607.9,138.3 C610.9,138.9 624.1,138.6 627.1,137.7Z"/><path d="M610.0,139.4 C612.7,138.6 608.7,137.0 608.2,135.8 C607.7,134.5 607.4,133.3 607.0,132.1 C606.6,130.8 606.3,129.6 606.0,128.4 C605.6,127.2 605.2,125.9 605.0,124.8 C604.8,123.7 604.8,122.8 604.8,121.8 C604.8,120.7 605.0,119.6 605.1,118.5 C605.3,117.4 605.4,116.3 605.6,115.2 C605.8,114.2 607.1,113.3 606.2,112.0 C605.2,110.7 602.1,107.7 600.0,107.7 C597.9,107.7 594.8,110.7 593.8,112.0 C592.9,113.3 594.2,114.2 594.4,115.2 C594.6,116.3 594.7,117.4 594.9,118.5 C595.0,119.6 595.2,120.6 595.2,121.8 C595.2,122.9 595.1,123.9 595.0,125.2 C594.9,126.4 594.7,127.8 594.5,129.1 C594.4,130.4 594.2,131.7 594.0,132.9 C593.8,134.2 593.6,135.5 593.3,136.7 C592.9,138.0 589.2,140.2 592.0,140.6 C594.8,141.0 607.3,140.2 610.0,139.4Z"/><path d="M637.7,148.2 C639.9,147.5 637.1,145.2 636.9,143.7 C636.7,142.2 636.6,140.6 636.4,139.1 C636.3,137.6 636.2,136.1 636.0,134.6 C635.9,133.1 635.7,131.7 635.7,130.2 C635.7,128.6 635.7,126.9 635.9,125.2 C636.0,123.6 636.3,121.9 636.5,120.2 C636.8,118.6 637.0,116.9 637.3,115.3 C637.6,113.6 639.0,111.8 638.2,110.3 C637.4,108.7 634.6,106.1 632.7,106.0 C630.8,105.9 627.7,108.3 626.8,109.7 C625.9,111.2 627.1,113.1 627.2,114.7 C627.3,116.4 627.4,118.1 627.5,119.8 C627.5,121.4 627.6,123.1 627.6,124.8 C627.6,126.5 627.5,128.2 627.3,129.8 C627.2,131.4 626.9,132.9 626.7,134.4 C626.5,135.9 626.3,137.4 626.1,138.9 C625.8,140.4 625.7,141.8 625.4,143.3 C625.0,144.8 622.2,147.0 624.3,147.8 C626.3,148.6 635.6,148.9 637.7,148.2Z"/><path d="M626.5,125.2 C627.9,125.0 626.1,123.7 625.9,123.0 C625.8,122.2 625.7,121.4 625.6,120.7 C625.5,119.9 625.5,119.2 625.4,118.4 C625.3,117.7 625.2,116.8 625.2,116.2 C625.1,115.5 625.2,114.9 625.2,114.3 C625.3,113.7 625.5,113.1 625.6,112.4 C625.7,111.8 625.9,111.2 626.0,110.6 C626.2,110.0 627.0,109.5 626.5,108.7 C626.0,108.0 624.3,106.1 623.2,106.0 C622.0,106.0 620.1,107.6 619.5,108.3 C618.9,109.0 619.7,109.5 619.7,110.2 C619.8,110.8 619.9,111.4 619.9,112.1 C620.0,112.7 620.0,113.3 620.0,114.0 C620.0,114.6 619.9,115.1 619.8,115.8 C619.7,116.5 619.5,117.3 619.4,118.1 C619.2,118.8 619.0,119.6 618.9,120.3 C618.7,121.1 618.6,121.8 618.3,122.5 C618.1,123.3 616.1,124.3 617.5,124.8 C618.9,125.2 625.1,125.5 626.5,125.2Z"/><path d="M604.2,129.7 C605.1,127.2 601.8,129.3 600.7,128.9 C599.5,128.6 598.4,128.2 597.3,127.8 C596.2,127.4 595.1,127.0 594.0,126.5 C592.9,126.1 591.7,125.6 590.7,125.2 C589.7,124.8 588.8,124.5 587.9,124.2 C587.0,123.9 586.1,123.6 585.2,123.2 C584.3,122.9 583.5,122.5 582.6,122.1 C581.7,121.6 580.7,120.9 579.9,120.4 C579.1,120.0 578.4,119.7 577.7,119.3 C577.0,119.0 576.4,118.6 575.8,118.3 C575.1,117.9 574.5,117.6 573.9,117.2 C573.3,116.9 573.3,115.6 572.0,116.1 C570.7,116.6 566.9,118.3 566.2,120.1 C565.6,121.9 567.3,125.7 568.0,126.9 C568.6,128.1 569.4,127.1 570.1,127.3 C570.8,127.4 571.5,127.6 572.2,127.7 C572.9,127.9 573.7,128.0 574.3,128.2 C575.0,128.3 575.4,128.3 576.1,128.6 C576.8,128.8 577.6,129.2 578.4,129.7 C579.2,130.1 580.0,130.7 580.8,131.3 C581.6,131.8 582.3,132.4 583.1,133.0 C583.8,133.6 584.5,134.1 585.3,134.8 C586.1,135.5 587.1,136.2 588.0,137.0 C588.9,137.7 589.8,138.5 590.7,139.2 C591.6,140.0 592.5,140.7 593.3,141.6 C594.2,142.4 593.9,146.2 595.8,144.3 C597.6,142.3 603.4,132.3 604.2,129.7Z"/><path d="M590.3,140.6 C590.1,138.9 589.0,141.2 588.3,141.4 C587.6,141.6 586.9,141.7 586.2,141.9 C585.6,142.0 584.9,142.1 584.2,142.3 C583.5,142.4 582.8,142.5 582.2,142.6 C581.6,142.6 581.0,142.6 580.5,142.6 C579.9,142.5 579.3,142.4 578.7,142.2 C578.1,142.1 577.6,142.0 577.0,141.8 C576.4,141.7 576.0,140.8 575.3,141.3 C574.5,141.8 572.5,143.6 572.4,144.8 C572.3,146.0 574.1,148.1 574.7,148.7 C575.4,149.3 575.9,148.5 576.5,148.4 C577.1,148.4 577.7,148.3 578.3,148.3 C578.9,148.2 579.5,148.2 580.0,148.2 C580.6,148.2 581.2,148.3 581.8,148.4 C582.4,148.6 583.1,148.8 583.8,149.0 C584.4,149.2 585.1,149.4 585.8,149.6 C586.4,149.8 587.1,150.0 587.7,150.3 C588.4,150.6 589.2,153.0 589.7,151.4 C590.1,149.8 590.6,142.3 590.3,140.6Z"/><path d="M590.3,164.0 C590.1,162.2 588.9,164.7 588.2,165.0 C587.6,165.2 586.9,165.4 586.2,165.5 C585.5,165.7 584.9,165.9 584.2,166.0 C583.5,166.2 582.8,166.3 582.1,166.4 C581.5,166.5 580.9,166.5 580.3,166.5 C579.7,166.5 579.2,166.3 578.6,166.2 C578.0,166.1 577.4,166.0 576.9,165.9 C576.3,165.8 575.9,164.9 575.1,165.5 C574.3,166.1 572.3,168.0 572.3,169.3 C572.2,170.6 574.2,172.7 574.9,173.3 C575.6,173.9 576.1,173.1 576.6,173.0 C577.2,172.9 577.8,172.8 578.4,172.8 C579.0,172.7 579.6,172.6 580.2,172.6 C580.7,172.6 581.3,172.7 581.9,172.8 C582.5,172.9 583.2,173.2 583.8,173.4 C584.5,173.6 585.1,173.8 585.8,174.1 C586.4,174.3 587.1,174.5 587.8,174.8 C588.4,175.2 589.3,177.8 589.7,176.0 C590.1,174.2 590.5,165.8 590.3,164.0Z"/><path d="M587.0,220.1 C586.8,218.2 584.9,220.5 583.8,220.6 C582.8,220.7 581.7,220.8 580.7,220.8 C579.7,220.8 578.7,220.8 577.6,220.9 C576.6,220.9 575.5,220.9 574.4,220.8 C573.4,220.8 572.4,220.7 571.4,220.6 C570.3,220.5 569.4,220.2 568.4,220.0 C567.4,219.8 566.4,219.6 565.4,219.3 C564.4,219.1 563.5,218.1 562.5,218.5 C561.4,219.0 559.3,220.9 559.2,222.3 C559.0,223.6 560.6,225.9 561.5,226.7 C562.4,227.4 563.6,226.6 564.6,226.6 C565.6,226.6 566.6,226.6 567.6,226.6 C568.6,226.6 569.7,226.6 570.6,226.7 C571.6,226.8 572.6,226.9 573.6,227.2 C574.5,227.4 575.4,227.8 576.4,228.1 C577.3,228.5 578.3,228.8 579.3,229.2 C580.3,229.6 581.2,229.9 582.2,230.4 C583.1,230.8 584.2,233.6 585.0,231.9 C585.8,230.2 587.2,222.0 587.0,220.1Z"/><path d="M586.6,242.4 C585.5,239.9 584.1,243.9 582.8,244.5 C581.6,245.2 580.3,245.6 579.0,246.1 C577.7,246.6 576.4,247.1 575.1,247.6 C573.9,248.0 572.7,248.6 571.5,248.9 C570.3,249.2 569.2,249.2 568.0,249.2 C566.8,249.3 565.5,249.2 564.2,249.1 C562.9,249.0 561.7,248.9 560.4,248.7 C559.2,248.6 557.9,247.3 556.6,248.3 C555.3,249.3 552.5,252.7 552.6,254.8 C552.8,256.8 556.0,259.9 557.4,260.7 C558.8,261.6 559.8,260.1 561.1,259.8 C562.3,259.5 563.6,259.3 564.8,259.0 C566.0,258.8 567.2,258.5 568.5,258.4 C569.8,258.3 571.1,258.3 572.5,258.3 C573.9,258.3 575.5,258.3 576.9,258.3 C578.3,258.4 579.6,258.4 581.0,258.5 C582.4,258.6 583.8,258.6 585.2,258.8 C586.6,258.9 589.2,262.3 589.4,259.6 C589.6,256.9 587.7,244.9 586.6,242.4Z"/><path d="M590.3,277.3 C589.3,275.4 588.5,278.7 587.6,279.2 C586.7,279.8 585.7,280.2 584.8,280.7 C583.9,281.2 582.9,281.6 582.0,282.1 C581.0,282.5 580.1,283.1 579.2,283.4 C578.4,283.7 577.7,283.8 576.9,283.9 C576.1,284.0 575.2,284.0 574.4,284.0 C573.5,284.1 572.7,284.1 571.8,284.1 C571.0,284.1 570.1,283.2 569.3,284.1 C568.4,284.9 566.6,287.6 566.8,289.1 C567.1,290.6 569.7,292.6 570.7,293.1 C571.8,293.7 572.3,292.6 573.2,292.3 C574.0,292.1 574.8,291.8 575.6,291.6 C576.4,291.3 577.2,291.1 578.1,290.9 C578.9,290.8 579.8,290.7 580.8,290.6 C581.8,290.6 583.0,290.5 584.0,290.4 C585.1,290.4 586.1,290.3 587.2,290.3 C588.3,290.3 589.3,290.2 590.4,290.3 C591.5,290.3 593.7,292.9 593.7,290.7 C593.7,288.5 591.3,279.2 590.3,277.3Z"/><path d="M595.3,286.5 C592.6,287.4 596.2,289.6 596.6,291.2 C596.9,292.7 597.2,294.3 597.4,295.9 C597.7,297.4 598.0,299.0 598.2,300.6 C598.5,302.2 598.7,303.7 598.9,305.3 C599.2,306.9 599.4,308.6 599.6,310.3 C599.9,311.9 600.1,313.6 600.3,315.3 C600.5,316.9 600.7,318.6 600.8,320.2 C600.8,321.9 600.8,323.6 600.8,325.2 C600.7,326.8 600.6,328.2 600.5,329.7 C600.4,331.1 600.3,332.7 600.2,334.2 C600.1,335.7 600.0,337.2 599.8,338.7 C599.7,340.2 598.2,341.6 599.4,343.2 C600.5,344.7 604.3,348.1 606.6,348.0 C609.0,347.9 612.6,344.4 613.6,342.8 C614.7,341.2 613.1,339.8 612.9,338.3 C612.7,336.8 612.5,335.3 612.3,333.8 C612.1,332.3 611.9,330.9 611.7,329.3 C611.5,327.8 611.4,326.4 611.2,324.8 C611.1,323.2 610.8,321.4 610.7,319.8 C610.6,318.1 610.7,316.4 610.7,314.7 C610.7,313.1 610.8,311.4 610.9,309.7 C610.9,308.0 611.0,306.3 611.1,304.7 C611.1,303.1 611.2,301.5 611.3,299.9 C611.4,298.3 611.5,296.7 611.6,295.1 C611.7,293.5 611.7,291.9 611.9,290.3 C612.1,288.7 615.5,286.2 612.7,285.5 C609.9,284.9 598.0,285.5 595.3,286.5Z"/><path d="M609.5,288.5 C607.3,289.3 610.6,290.8 611.0,291.9 C611.4,293.1 611.7,294.2 612.0,295.4 C612.3,296.5 612.6,297.7 612.9,298.8 C613.1,300.0 613.5,301.1 613.7,302.2 C613.9,303.4 613.9,304.5 613.9,305.7 C613.9,306.8 613.8,308.0 613.7,309.2 C613.6,310.3 613.4,311.5 613.3,312.7 C613.1,313.9 611.9,315.0 612.8,316.2 C613.7,317.4 616.7,320.1 618.6,320.0 C620.6,320.0 623.4,317.1 624.2,315.8 C625.1,314.5 623.7,313.5 623.5,312.3 C623.2,311.2 623.0,310.0 622.8,308.8 C622.6,307.7 622.4,306.5 622.3,305.3 C622.2,304.2 622.3,303.0 622.3,301.8 C622.4,300.6 622.5,299.3 622.6,298.2 C622.8,297.0 622.9,295.8 623.0,294.6 C623.2,293.4 623.3,292.2 623.5,291.1 C623.8,289.9 626.8,287.9 624.5,287.5 C622.1,287.0 611.8,287.8 609.5,288.5Z"/><path d="M626.1,282.7 C624.1,283.5 627.1,285.1 627.5,286.3 C627.9,287.6 628.2,288.8 628.5,290.0 C628.8,291.3 629.1,292.5 629.4,293.7 C629.7,294.9 630.1,296.3 630.3,297.4 C630.5,298.5 630.6,299.3 630.6,300.3 C630.6,301.3 630.5,302.4 630.4,303.4 C630.3,304.4 630.2,305.4 630.0,306.4 C629.9,307.5 628.6,308.4 629.5,309.5 C630.5,310.6 633.9,313.3 635.8,313.2 C637.8,313.0 640.7,309.8 641.5,308.5 C642.2,307.2 640.8,306.5 640.5,305.6 C640.2,304.6 639.9,303.6 639.6,302.6 C639.4,301.6 639.1,300.7 638.9,299.7 C638.8,298.7 638.7,297.8 638.7,296.6 C638.7,295.5 638.8,294.1 638.8,292.8 C638.9,291.5 638.9,290.2 639.0,289.0 C639.1,287.7 639.1,286.4 639.2,285.2 C639.4,283.9 642.0,281.7 639.9,281.3 C637.7,280.9 628.2,281.8 626.1,282.7Z"/></g>
<path d="M607.6,131 L610.4,131 L610.4,291 L607.6,291Z" fill="#b9ddf6" opacity="0.7"/>
<path d="M610.0,133.0 C611.7,133.2 617.0,133.5 620.0,134.0 C623.0,134.5 625.7,134.8 628.0,136.0 C630.3,137.2 632.0,139.8 634.0,141.0 C636.0,142.2 638.3,141.8 640.0,143.0 C641.7,144.2 642.5,146.5 644.0,148.0 C645.5,149.5 648.0,150.0 649.0,152.0 C650.0,154.0 649.7,156.2 650.0,160.0 C650.3,163.8 650.7,169.2 651.0,175.0 C651.3,180.8 652.0,188.3 652.0,195.0 C652.0,201.7 651.3,208.3 651.0,215.0 C650.7,221.7 650.5,229.2 650.0,235.0 C649.5,240.8 648.8,245.5 648.0,250.0 C647.2,254.5 646.2,258.7 645.0,262.0 C643.8,265.3 642.3,267.5 641.0,270.0 C639.7,272.5 638.0,274.8 637.0,277.0 C636.0,279.2 636.2,281.2 635.0,283.0 C633.8,284.8 632.2,286.8 630.0,288.0 C627.8,289.2 625.3,289.7 622.0,290.0 C618.7,290.3 612.0,290.0 610.0,290.0 L610.4,290 L610.4,133Z" fill="#444" filter="url(#bGray)"/>
<g fill="#8cc6ee" filter="url(#bBlue)"><path d="M637.7,150.2 C639.9,149.4 637.1,146.8 636.9,145.1 C636.7,143.5 636.6,141.8 636.4,140.1 C636.3,138.5 636.2,136.8 636.0,135.1 C635.9,133.5 635.7,131.8 635.7,130.2 C635.7,128.5 635.7,126.9 635.9,125.2 C636.0,123.6 636.3,121.9 636.5,120.2 C636.8,118.6 637.0,116.9 637.3,115.3 C637.6,113.6 639.0,111.8 638.2,110.3 C637.4,108.7 634.6,106.1 632.7,106.0 C630.8,105.9 627.7,108.3 626.8,109.7 C625.9,111.2 627.1,113.1 627.2,114.7 C627.3,116.4 627.4,118.1 627.5,119.8 C627.5,121.4 627.6,123.1 627.6,124.8 C627.6,126.5 627.5,128.2 627.3,129.8 C627.2,131.5 626.9,133.2 626.7,134.9 C626.5,136.6 626.3,138.2 626.1,139.9 C625.8,141.5 625.7,143.2 625.4,144.9 C625.0,146.5 622.2,148.9 624.3,149.8 C626.3,150.7 635.6,150.9 637.7,150.2Z"/><path d="M626.1,280.6 C624.1,281.5 627.1,283.4 627.5,284.8 C627.9,286.2 628.2,287.6 628.5,289.0 C628.8,290.4 629.1,291.8 629.4,293.2 C629.7,294.6 630.1,296.2 630.3,297.4 C630.5,298.6 630.6,299.3 630.6,300.3 C630.6,301.4 630.5,302.4 630.4,303.4 C630.3,304.4 630.2,305.4 630.0,306.4 C629.9,307.5 628.6,308.4 629.5,309.5 C630.5,310.6 633.9,313.3 635.8,313.2 C637.8,313.0 640.7,309.8 641.5,308.5 C642.2,307.2 640.8,306.5 640.5,305.6 C640.2,304.6 639.9,303.6 639.6,302.6 C639.4,301.6 639.1,300.6 638.9,299.7 C638.8,298.7 638.7,297.9 638.7,296.6 C638.7,295.4 638.8,293.8 638.8,292.3 C638.9,290.9 638.9,289.5 639.0,288.0 C639.1,286.6 639.1,285.2 639.2,283.7 C639.4,282.3 642.1,279.9 639.9,279.4 C637.7,278.9 628.2,279.7 626.1,280.6Z"/><path d="M610.5,287.2 C608.2,288.0 611.5,289.7 611.8,291.0 C612.2,292.2 612.4,293.4 612.7,294.7 C613.0,295.9 613.2,297.2 613.5,298.4 C613.7,299.6 614.0,300.9 614.2,302.1 C614.3,303.3 614.3,304.3 614.3,305.5 C614.2,306.7 614.1,307.8 613.9,309.0 C613.8,310.2 613.6,311.3 613.4,312.5 C613.2,313.7 611.9,314.7 612.8,316.0 C613.6,317.3 616.6,320.0 618.5,320.0 C620.4,320.0 623.4,317.3 624.2,316.0 C625.1,314.7 623.8,313.7 623.6,312.5 C623.4,311.3 623.2,310.2 623.1,309.0 C622.9,307.8 622.8,306.7 622.7,305.5 C622.7,304.3 622.7,303.2 622.8,301.9 C622.9,300.7 623.1,299.4 623.3,298.1 C623.4,296.8 623.6,295.6 623.8,294.3 C624.0,293.1 624.1,291.8 624.4,290.5 C624.7,289.3 627.8,287.3 625.5,286.8 C623.2,286.2 612.8,286.5 610.5,287.2Z"/></g>
<path d="M626.0,147.0 C627.9,147.7 633.4,149.8 637.1,151.3 C640.8,152.8 644.5,154.3 648.2,155.8 C651.9,157.3 657.4,159.5 659.3,160.2" fill="none" stroke="#dcc088" stroke-width="2.3" stroke-linecap="round"/>
<path d="M627.2,153.4 C629.0,153.9 634.5,155.2 638.1,156.2 C641.8,157.2 645.4,158.2 649.0,159.4 C652.7,160.6 658.1,162.7 660.0,163.3" fill="none" stroke="#d3b273" stroke-width="2.8" stroke-linecap="round"/>
<path d="M628.4,159.8 C630.2,160.1 635.6,160.8 639.1,161.8 C642.7,162.8 646.3,164.5 649.9,165.7 C653.5,166.9 658.8,168.3 660.6,168.8" fill="none" stroke="#d3b273" stroke-width="2.5" stroke-linecap="round"/>
<path d="M629.6,166.2 C631.4,166.9 636.6,169.4 640.2,170.2 C643.7,171.0 647.2,170.6 650.7,171.1 C654.2,171.6 659.5,172.9 661.3,173.2" fill="none" stroke="#d3b273" stroke-width="2.6" stroke-linecap="round"/>
<path d="M630.8,172.6 C632.5,173.1 637.7,174.2 641.2,175.3 C644.6,176.4 648.1,178.6 651.6,179.3 C655.0,180.0 660.2,179.7 661.9,179.8" fill="none" stroke="#d3b273" stroke-width="3.5" stroke-linecap="round"/>
<path d="M632.0,179.0 C633.7,179.8 638.8,182.9 642.2,183.5 C645.6,184.1 649.0,182.6 652.4,182.8 C655.8,182.9 660.9,184.0 662.6,184.3" fill="none" stroke="#c9a766" stroke-width="2.4" stroke-linecap="round"/>
<path d="M633.2,185.4 C634.9,185.9 639.9,187.8 643.2,188.4 C646.6,189.1 649.9,188.8 653.2,189.1 C656.6,189.4 661.6,190.1 663.3,190.2" fill="none" stroke="#c9a766" stroke-width="2.7" stroke-linecap="round"/>
<path d="M634.4,191.8 C636.0,192.2 641.0,193.7 644.2,193.9 C647.5,194.1 650.8,193.2 654.1,193.2 C657.4,193.2 662.3,193.8 663.9,193.9" fill="none" stroke="#dcc088" stroke-width="2.8" stroke-linecap="round"/>
<path d="M635.6,198.2 C637.2,198.6 642.0,200.6 645.3,200.8 C648.5,200.9 651.7,199.2 654.9,199.0 C658.1,198.8 663.0,199.5 664.6,199.6" fill="none" stroke="#d3b273" stroke-width="2.5" stroke-linecap="round"/>
<path d="M636.8,204.6 C638.4,204.6 643.1,204.4 646.3,204.6 C649.4,204.7 652.6,205.7 655.8,205.7 C658.9,205.6 663.7,204.3 665.2,204.1" fill="none" stroke="#dcc088" stroke-width="2.6" stroke-linecap="round"/>
<path d="M638.0,211.0 C639.5,211.1 644.2,211.9 647.3,211.9 C650.4,211.8 653.5,211.0 656.6,210.7 C659.7,210.4 664.4,210.0 665.9,209.8" fill="none" stroke="#c9a766" stroke-width="2.4" stroke-linecap="round"/>
<path d="M637.4,217.4 C639.0,217.2 643.7,216.9 646.8,216.3 C649.9,215.7 653.0,214.5 656.2,213.9 C659.3,213.4 664.0,213.1 665.6,213.0" fill="none" stroke="#c9a766" stroke-width="3.2" stroke-linecap="round"/>
<path d="M636.8,223.8 C638.4,223.3 643.1,221.9 646.3,221.1 C649.4,220.3 652.6,219.6 655.8,219.2 C658.9,218.9 663.7,219.0 665.2,218.9" fill="none" stroke="#dcc088" stroke-width="2.4" stroke-linecap="round"/>
<path d="M636.2,230.2 C637.8,230.0 642.6,230.1 645.8,229.2 C649.0,228.4 652.1,226.3 655.3,225.1 C658.5,224.0 663.3,223.0 664.9,222.5" fill="none" stroke="#d3b273" stroke-width="3.6" stroke-linecap="round"/>
<path d="M635.6,236.6 C637.2,236.1 642.0,234.8 645.3,233.7 C648.5,232.6 651.7,230.8 654.9,230.1 C658.1,229.4 663.0,229.5 664.6,229.4" fill="none" stroke="#dcc088" stroke-width="3.5" stroke-linecap="round"/>
<path d="M635.0,243.0 C636.6,242.5 641.5,241.3 644.8,240.0 C648.0,238.8 651.2,236.3 654.5,235.3 C657.8,234.3 662.6,234.2 664.2,233.9" fill="none" stroke="#d3b273" stroke-width="3.6" stroke-linecap="round"/>
<path d="M634.4,249.4 C636.0,248.9 641.0,247.4 644.2,246.2 C647.5,244.9 650.8,243.1 654.1,241.8 C657.4,240.6 662.3,239.1 663.9,238.5" fill="none" stroke="#d3b273" stroke-width="2.8" stroke-linecap="round"/>
<path d="M633.8,255.8 C635.5,255.4 640.4,254.9 643.7,253.5 C647.0,252.2 650.4,249.4 653.7,247.5 C657.0,245.5 661.9,242.9 663.6,242.0" fill="none" stroke="#dcc088" stroke-width="2.5" stroke-linecap="round"/>
<path d="M633.2,262.2 C634.9,261.8 639.9,260.9 643.2,259.6 C646.6,258.2 649.9,256.1 653.2,254.1 C656.6,252.0 661.6,248.6 663.3,247.5" fill="none" stroke="#d3b273" stroke-width="3.2" stroke-linecap="round"/>
<path d="M632.6,268.6 C634.3,267.9 639.3,265.9 642.7,264.3 C646.1,262.8 649.5,261.2 652.8,259.1 C656.2,257.1 661.2,253.4 662.9,252.3" fill="none" stroke="#c9a766" stroke-width="3.2" stroke-linecap="round"/>
<path d="M632.0,275.0 C633.7,274.3 638.8,272.5 642.2,270.5 C645.6,268.6 649.0,265.1 652.4,263.1 C655.8,261.2 660.9,259.6 662.6,258.9" fill="none" stroke="#c9a766" stroke-width="2.7" stroke-linecap="round"/>
<text x="590" y="81.8" font-size="18.5" fill="#5b9bd8" textLength="69" lengthAdjust="spacingAndGlyphs">Effluent</text>
<text x="796" y="217.8" font-size="18.5" fill="#c8a869" textLength="68.5" lengthAdjust="spacingAndGlyphs">Influent</text>
<text x="661.5" y="330.2" font-size="17" fill="#222" textLength="39.5" lengthAdjust="spacingAndGlyphs">REM</text>
<path d="M631.2,280 L655.6,310.2" stroke="#666" stroke-width="1.3" fill="none"/><path d="M659.4,314.8 L651.6,311.4 L657,307Z" fill="#666"/>
</g>
<g id="panel-c">
<rect x="983.5" y="48.5" width="330.9" height="267.5" fill="none" stroke="#2b2b2b" stroke-width="1.1"/>
<line x1="977.5" y1="316.6" x2="983.5" y2="316.6" stroke="#2b2b2b" stroke-width="1.1"/>
<line x1="980.0" y1="289.8" x2="983.5" y2="289.8" stroke="#2b2b2b" stroke-width="1.1"/>
<line x1="977.5" y1="263.0" x2="983.5" y2="263.0" stroke="#2b2b2b" stroke-width="1.1"/>
<line x1="980.0" y1="236.2" x2="983.5" y2="236.2" stroke="#2b2b2b" stroke-width="1.1"/>
<line x1="977.5" y1="209.4" x2="983.5" y2="209.4" stroke="#2b2b2b" stroke-width="1.1"/>
<line x1="980.0" y1="182.6" x2="983.5" y2="182.6" stroke="#2b2b2b" stroke-width="1.1"/>
<line x1="977.5" y1="155.8" x2="983.5" y2="155.8" stroke="#2b2b2b" stroke-width="1.1"/>
<line x1="980.0" y1="129.0" x2="983.5" y2="129.0" stroke="#2b2b2b" stroke-width="1.1"/>
<line x1="977.5" y1="102.2" x2="983.5" y2="102.2" stroke="#2b2b2b" stroke-width="1.1"/>
<line x1="980.0" y1="75.4" x2="983.5" y2="75.4" stroke="#2b2b2b" stroke-width="1.1"/>
<line x1="977.5" y1="48.6" x2="983.5" y2="48.6" stroke="#2b2b2b" stroke-width="1.1"/>
<text x="969" y="322.4" font-size="16.2" text-anchor="end" fill="#222" textLength="24" lengthAdjust="spacingAndGlyphs">−10</text>
<text x="969" y="268.8" font-size="16.2" text-anchor="end" fill="#222" textLength="9.5" lengthAdjust="spacingAndGlyphs">0</text>
<text x="969" y="215.2" font-size="16.2" text-anchor="end" fill="#222" textLength="19" lengthAdjust="spacingAndGlyphs">10</text>
<text x="969" y="161.6" font-size="16.2" text-anchor="end" fill="#222" textLength="20" lengthAdjust="spacingAndGlyphs">20</text>
<text x="969" y="108.0" font-size="16.2" text-anchor="end" fill="#222" textLength="20" lengthAdjust="spacingAndGlyphs">30</text>
<text x="969" y="54.4" font-size="16.2" text-anchor="end" fill="#222" textLength="20" lengthAdjust="spacingAndGlyphs">40</text>
<line x1="1002.4" y1="316.0" x2="1002.4" y2="319.5" stroke="#2b2b2b" stroke-width="1.1"/>
<line x1="1039.1" y1="316.0" x2="1039.1" y2="322.0" stroke="#2b2b2b" stroke-width="1.1"/>
<line x1="1075.8" y1="316.0" x2="1075.8" y2="319.5" stroke="#2b2b2b" stroke-width="1.1"/>
<line x1="1112.5" y1="316.0" x2="1112.5" y2="322.0" stroke="#2b2b2b" stroke-width="1.1"/>
<line x1="1149.2" y1="316.0" x2="1149.2" y2="319.5" stroke="#2b2b2b" stroke-width="1.1"/>
<line x1="1185.9" y1="316.0" x2="1185.9" y2="322.0" stroke="#2b2b2b" stroke-width="1.1"/>
<line x1="1222.6" y1="316.0" x2="1222.6" y2="319.5" stroke="#2b2b2b" stroke-width="1.1"/>
<line x1="1259.3" y1="316.0" x2="1259.3" y2="322.0" stroke="#2b2b2b" stroke-width="1.1"/>
<line x1="1296.0" y1="316.0" x2="1296.0" y2="319.5" stroke="#2b2b2b" stroke-width="1.1"/>
<text x="1039.1" y="342.8" font-size="16.2" text-anchor="middle" fill="#222">0</text>
<text x="1112.5" y="342.8" font-size="16.2" text-anchor="middle" fill="#222">1</text>
<text x="1185.9" y="342.8" font-size="16.2" text-anchor="middle" fill="#222">2</text>
<text x="1259.3" y="342.8" font-size="16.2" text-anchor="middle" fill="#222">3</text>
<text transform="translate(930,190) rotate(-90)" font-size="18" text-anchor="middle" fill="#222" textLength="236" lengthAdjust="spacingAndGlyphs">Current density (mA cm<tspan font-size="11.5" dy="-7">−2</tspan><tspan dy="7">)</tspan></text>
<text x="1149" y="373.5" font-size="18" text-anchor="middle" fill="#222" textLength="150" lengthAdjust="spacingAndGlyphs">Cell potential (V)</text>
<path d="M1001.8,268.4 C1002.5,268.1 1004.6,267.1 1006.0,266.6 C1007.4,266.1 1008.3,265.7 1010.0,265.4 C1011.7,265.1 1013.5,264.9 1016.0,264.6 C1018.5,264.3 1021.2,264.1 1025.0,263.8 C1028.8,263.5 1033.2,263.3 1039.0,263.0 C1044.8,262.7 1053.2,262.4 1060.0,262.2 C1066.8,262.0 1073.3,261.8 1080.0,261.6 C1086.7,261.4 1093.3,261.2 1100.0,260.9 C1106.7,260.6 1113.3,260.2 1120.0,259.6 C1126.7,259.1 1132.9,258.4 1140.0,257.6 C1147.1,256.8 1156.0,255.8 1162.7,254.6 C1169.4,253.4 1174.5,252.0 1180.0,250.6 C1185.5,249.2 1190.5,247.5 1195.7,245.9 C1200.9,244.3 1206.1,242.8 1211.3,241.2 C1216.5,239.6 1222.8,237.8 1227.0,236.2 C1231.2,234.6 1233.3,233.6 1236.4,231.8 C1239.5,230.0 1242.7,227.8 1245.8,225.5 C1248.9,223.2 1252.1,220.8 1255.2,218.0 C1258.3,215.2 1261.5,212.2 1264.6,208.9 C1267.7,205.6 1270.9,201.8 1274.0,197.9 C1277.1,194.0 1280.8,189.3 1283.4,185.4 C1286.0,181.5 1287.5,178.2 1289.7,174.4 C1291.9,170.6 1295.3,164.5 1296.4,162.5" fill="none" stroke="#111" stroke-width="1.3" stroke-linejoin="round"/>
<path d="M1001.8,310.0 C1002.2,308.2 1003.2,302.3 1004.0,299.0 C1004.8,295.7 1005.5,292.6 1006.5,290.3 C1007.5,288.0 1008.4,287.1 1010.0,285.0 C1011.6,282.9 1014.3,279.7 1016.0,277.8 C1017.7,275.9 1018.4,275.1 1020.0,273.8 C1021.6,272.5 1023.6,271.1 1025.4,270.0 C1027.2,268.9 1028.9,268.1 1031.0,267.3 C1033.1,266.5 1035.7,265.8 1037.9,265.2 C1040.1,264.6 1041.9,264.2 1044.0,263.8 C1046.1,263.4 1047.7,263.1 1050.4,262.8 C1053.1,262.6 1056.7,262.4 1060.0,262.3 C1063.3,262.2 1065.8,262.1 1070.0,262.0 C1074.2,261.9 1079.9,261.8 1085.0,261.6 C1090.1,261.4 1097.1,261.0 1100.6,260.6 C1104.1,260.2 1103.9,259.6 1106.0,259.0 C1108.1,258.4 1109.7,257.8 1113.0,257.2 C1116.3,256.6 1122.5,255.8 1125.6,255.4 C1128.6,255.0 1128.1,255.2 1131.3,254.6 C1134.5,254.0 1139.8,253.0 1145.0,251.6 C1150.2,250.2 1156.9,248.4 1162.7,246.0 C1168.5,243.6 1174.5,240.3 1180.0,237.1 C1185.5,233.9 1190.5,230.9 1195.7,226.7 C1200.9,222.5 1206.1,217.6 1211.3,212.0 C1216.5,206.4 1221.8,200.1 1227.0,193.0 C1232.2,185.9 1237.5,177.8 1242.7,169.7 C1247.9,161.6 1253.2,153.0 1258.4,144.6 C1263.6,136.2 1269.3,127.3 1274.0,119.4 C1278.7,111.5 1282.9,104.0 1286.6,97.4 C1290.3,90.8 1294.8,82.6 1296.4,79.6" fill="none" stroke="#1a9890" stroke-width="1.3" stroke-linejoin="round"/>
<line x1="1210" y1="70.3" x2="1246.5" y2="70.3" stroke="#111" stroke-width="1.2"/>
<line x1="1210" y1="90.4" x2="1246.5" y2="90.4" stroke="#1a9890" stroke-width="1.2"/>
<text x="1255" y="75.5" font-size="16.2" fill="#222">Ar</text>
<text x="1255" y="96" font-size="16.2" fill="#222">O<tspan font-size="10.5" dy="4">2</tspan></text>
<path d="M1022.6,51.5 V203.5 H1213" fill="none" stroke="#2b2b2b" stroke-width="1.1"/>
<line x1="1018.1" y1="202.2" x2="1022.6" y2="202.2" stroke="#2b2b2b" stroke-width="1"/>
<line x1="1020.1" y1="190.6" x2="1022.6" y2="190.6" stroke="#2b2b2b" stroke-width="1"/>
<line x1="1018.1" y1="179.0" x2="1022.6" y2="179.0" stroke="#2b2b2b" stroke-width="1"/>
<line x1="1020.1" y1="167.4" x2="1022.6" y2="167.4" stroke="#2b2b2b" stroke-width="1"/>
<line x1="1018.1" y1="155.8" x2="1022.6" y2="155.8" stroke="#2b2b2b" stroke-width="1"/>
<line x1="1020.1" y1="144.2" x2="1022.6" y2="144.2" stroke="#2b2b2b" stroke-width="1"/>
<line x1="1018.1" y1="132.6" x2="1022.6" y2="132.6" stroke="#2b2b2b" stroke-width="1"/>
<line x1="1020.1" y1="121.0" x2="1022.6" y2="121.0" stroke="#2b2b2b" stroke-width="1"/>
<line x1="1018.1" y1="109.4" x2="1022.6" y2="109.4" stroke="#2b2b2b" stroke-width="1"/>
<line x1="1020.1" y1="97.8" x2="1022.6" y2="97.8" stroke="#2b2b2b" stroke-width="1"/>
<line x1="1018.1" y1="86.2" x2="1022.6" y2="86.2" stroke="#2b2b2b" stroke-width="1"/>
<line x1="1020.1" y1="74.6" x2="1022.6" y2="74.6" stroke="#2b2b2b" stroke-width="1"/>
<line x1="1018.1" y1="63.0" x2="1022.6" y2="63.0" stroke="#2b2b2b" stroke-width="1"/>
<text x="1015.5" y="206.9" font-size="13" text-anchor="end" fill="#222">0</text>
<text x="1015.5" y="183.7" font-size="13" text-anchor="end" fill="#222">1</text>
<text x="1015.5" y="160.5" font-size="13" text-anchor="end" fill="#222">2</text>
<text x="1015.5" y="137.3" font-size="13" text-anchor="end" fill="#222">3</text>
<text x="1015.5" y="114.1" font-size="13" text-anchor="end" fill="#222">4</text>
<text x="1015.5" y="90.9" font-size="13" text-anchor="end" fill="#222">5</text>
<text x="1015.5" y="67.7" font-size="13" text-anchor="end" fill="#222">6</text>
<line x1="1026.3" y1="203.5" x2="1026.3" y2="208.0" stroke="#2b2b2b" stroke-width="1"/>
<line x1="1042.8" y1="203.5" x2="1042.8" y2="206.0" stroke="#2b2b2b" stroke-width="1"/>
<line x1="1059.3" y1="203.5" x2="1059.3" y2="208.0" stroke="#2b2b2b" stroke-width="1"/>
<line x1="1075.8" y1="203.5" x2="1075.8" y2="206.0" stroke="#2b2b2b" stroke-width="1"/>
<line x1="1092.3" y1="203.5" x2="1092.3" y2="208.0" stroke="#2b2b2b" stroke-width="1"/>
<line x1="1108.8" y1="203.5" x2="1108.8" y2="206.0" stroke="#2b2b2b" stroke-width="1"/>
<line x1="1125.3" y1="203.5" x2="1125.3" y2="208.0" stroke="#2b2b2b" stroke-width="1"/>
<line x1="1141.8" y1="203.5" x2="1141.8" y2="206.0" stroke="#2b2b2b" stroke-width="1"/>
<line x1="1158.3" y1="203.5" x2="1158.3" y2="208.0" stroke="#2b2b2b" stroke-width="1"/>
<line x1="1174.8" y1="203.5" x2="1174.8" y2="206.0" stroke="#2b2b2b" stroke-width="1"/>
<line x1="1191.3" y1="203.5" x2="1191.3" y2="208.0" stroke="#2b2b2b" stroke-width="1"/>
<line x1="1207.8" y1="203.5" x2="1207.8" y2="206.0" stroke="#2b2b2b" stroke-width="1"/>
<text x="1026.3" y="221.5" font-size="13" text-anchor="middle" fill="#222">0</text>
<text x="1059.3" y="221.5" font-size="13" text-anchor="middle" fill="#222">1</text>
<text x="1092.3" y="221.5" font-size="13" text-anchor="middle" fill="#222">2</text>
<text x="1125.3" y="221.5" font-size="13" text-anchor="middle" fill="#222">3</text>
<text x="1158.3" y="221.5" font-size="13" text-anchor="middle" fill="#222">4</text>
<text x="1191.3" y="221.5" font-size="13" text-anchor="middle" fill="#222">5</text>
<text transform="translate(1002,134) rotate(-90)" font-size="15" text-anchor="middle" fill="#222" textLength="103" lengthAdjust="spacingAndGlyphs">−<tspan font-style="italic">z</tspan>″ (×10<tspan font-size="9.5" dy="-6">2</tspan><tspan dy="6"> ohm)</tspan></text>
<text x="1113" y="243" font-size="16" text-anchor="middle" fill="#222" textLength="103" lengthAdjust="spacingAndGlyphs">−<tspan font-style="italic">z</tspan>′ (×10<tspan font-size="10" dy="-6.5">2</tspan><tspan dy="6.5"> ohm)</tspan></text>
<circle cx="1186.8" cy="74.6" r="2.1" fill="url(#gdot)"/>
<circle cx="1169.6" cy="83.7" r="2.1" fill="url(#gdot)"/>
<circle cx="1151.6" cy="93.9" r="2.1" fill="url(#gdot)"/>
<circle cx="1136.3" cy="105.5" r="2.1" fill="url(#gdot)"/>
<circle cx="1123.6" cy="116.0" r="2.1" fill="url(#gdot)"/>
<circle cx="1113.3" cy="126.1" r="2.1" fill="url(#gdot)"/>
<circle cx="1104.7" cy="134.7" r="2.1" fill="url(#gdot)"/>
<circle cx="1097.5" cy="141.7" r="2.1" fill="url(#gdot)"/>
<circle cx="1090.2" cy="148.4" r="2.1" fill="url(#gdot)"/>
<circle cx="1083.5" cy="153.8" r="2.1" fill="url(#gdot)"/>
<circle cx="1078.1" cy="159.2" r="2.1" fill="url(#gdot)"/>
<circle cx="1073.3" cy="163.7" r="2.1" fill="url(#gdot)"/>
<circle cx="1068.7" cy="167.5" r="2.1" fill="url(#gdot)"/>
<circle cx="1064.5" cy="171.0" r="2.1" fill="url(#gdot)"/>
<circle cx="1061.3" cy="173.6" r="2.1" fill="url(#gdot)"/>
<circle cx="1059.0" cy="175.5" r="2.1" fill="url(#gdot)"/>
<circle cx="1056.9" cy="177.3" r="2.1" fill="url(#gdot)"/>
<circle cx="1054.9" cy="178.9" r="2.1" fill="url(#gdot)"/>
<circle cx="1053.0" cy="180.4" r="2.1" fill="url(#gdot)"/>
<circle cx="1051.2" cy="181.9" r="2.1" fill="url(#gdot)"/>
<circle cx="1049.5" cy="183.3" r="2.1" fill="url(#gdot)"/>
<circle cx="1047.8" cy="184.7" r="2.1" fill="url(#gdot)"/>
<circle cx="1046.2" cy="186.1" r="2.1" fill="url(#gdot)"/>
<circle cx="1044.5" cy="187.4" r="2.1" fill="url(#gdot)"/>
<circle cx="1043.0" cy="188.7" r="2.1" fill="url(#gdot)"/>
<circle cx="1041.4" cy="190.0" r="2.1" fill="url(#gdot)"/>
<circle cx="1039.9" cy="191.2" r="2.1" fill="url(#gdot)"/>
<circle cx="1038.4" cy="192.5" r="2.1" fill="url(#gdot)"/>
<circle cx="1036.9" cy="193.7" r="2.1" fill="url(#gdot)"/>
<circle cx="1035.4" cy="194.9" r="2.1" fill="url(#gdot)"/>
<circle cx="1034.0" cy="196.1" r="2.1" fill="url(#gdot)"/>
<circle cx="1032.6" cy="197.2" r="2.1" fill="url(#gdot)"/>
<circle cx="1031.1" cy="198.4" r="2.1" fill="url(#gdot)"/>
<circle cx="1029.8" cy="199.5" r="2.1" fill="url(#gdot)"/>
<circle cx="1028.4" cy="200.7" r="2.1" fill="url(#gdot)"/>
<circle cx="1027.0" cy="201.8" r="2.1" fill="url(#gdot)"/>
<circle cx="1132.3" cy="163.3" r="2.1" fill="url(#tdot)"/>
<circle cx="1126.5" cy="163.2" r="2.1" fill="url(#tdot)"/>
<circle cx="1119.0" cy="164.0" r="2.1" fill="url(#tdot)"/>
<circle cx="1112.0" cy="165.2" r="2.1" fill="url(#tdot)"/>
<circle cx="1105.2" cy="166.9" r="2.1" fill="url(#tdot)"/>
<circle cx="1098.8" cy="168.6" r="2.1" fill="url(#tdot)"/>
<circle cx="1093.4" cy="170.5" r="2.1" fill="url(#tdot)"/>
<circle cx="1088.0" cy="172.3" r="2.1" fill="url(#tdot)"/>
<circle cx="1083.5" cy="174.2" r="2.1" fill="url(#tdot)"/>
<circle cx="1078.7" cy="176.4" r="2.1" fill="url(#tdot)"/>
<circle cx="1074.1" cy="178.5" r="2.1" fill="url(#tdot)"/>
<circle cx="1070.0" cy="180.4" r="2.1" fill="url(#tdot)"/>
<circle cx="1066.0" cy="182.5" r="2.1" fill="url(#tdot)"/>
<circle cx="1062.9" cy="184.0" r="2.1" fill="url(#tdot)"/>
<circle cx="1060.7" cy="185.1" r="2.1" fill="url(#tdot)"/>
<circle cx="1058.6" cy="186.2" r="2.1" fill="url(#tdot)"/>
<circle cx="1056.7" cy="187.1" r="2.1" fill="url(#tdot)"/>
<circle cx="1054.9" cy="188.0" r="2.1" fill="url(#tdot)"/>
<circle cx="1053.1" cy="188.9" r="2.1" fill="url(#tdot)"/>
<circle cx="1051.4" cy="189.7" r="2.1" fill="url(#tdot)"/>
<circle cx="1049.8" cy="190.5" r="2.1" fill="url(#tdot)"/>
<circle cx="1048.2" cy="191.3" r="2.1" fill="url(#tdot)"/>
<circle cx="1046.6" cy="192.1" r="2.1" fill="url(#tdot)"/>
<circle cx="1045.1" cy="192.8" r="2.1" fill="url(#tdot)"/>
<circle cx="1043.6" cy="193.6" r="2.1" fill="url(#tdot)"/>
<circle cx="1042.1" cy="194.3" r="2.1" fill="url(#tdot)"/>
<circle cx="1040.7" cy="195.0" r="2.1" fill="url(#tdot)"/>
<circle cx="1039.2" cy="195.8" r="2.1" fill="url(#tdot)"/>
<circle cx="1037.8" cy="196.5" r="2.1" fill="url(#tdot)"/>
<circle cx="1036.4" cy="197.1" r="2.1" fill="url(#tdot)"/>
<circle cx="1035.0" cy="197.8" r="2.1" fill="url(#tdot)"/>
<circle cx="1033.6" cy="198.5" r="2.1" fill="url(#tdot)"/>
<circle cx="1032.3" cy="199.2" r="2.1" fill="url(#tdot)"/>
<circle cx="1031.0" cy="199.8" r="2.1" fill="url(#tdot)"/>
<circle cx="1029.6" cy="200.5" r="2.1" fill="url(#tdot)"/>
<circle cx="1028.3" cy="201.2" r="2.1" fill="url(#tdot)"/>
<circle cx="1027.0" cy="201.8" r="2.1" fill="url(#tdot)"/>
</g>
<g id="panel-d">
<path d="M131.3,580.3 L151.7,587.3 L151.7,593.3 L131.3,585.8Z" fill="#c4c4c4"/>
<path d="M131.3,580.3 L151.7,587.3 L151.7,593.3 L131.3,585.8Z" fill="url(#gridLg)"/>
<path d="M160.0,590.1 L211.0,607.7 L211.0,615.2 L160.0,597.1Z" fill="#c4c4c4"/>
<path d="M160.0,590.1 L211.0,607.7 L211.0,615.2 L160.0,597.1Z" fill="url(#gridLg)"/>
<path d="M220.6,611.0 L278.8,631.0 L278.8,639.5 L220.6,619.0Z" fill="#c4c4c4"/>
<path d="M220.6,611.0 L278.8,631.0 L278.8,639.5 L220.6,619.0Z" fill="url(#gridLg)"/>
<path d="M126.0,525.5 L278.8,573.0 L278.8,632.0 L125.3,579.2Z" fill="#d8612b"/>
<path d="M126.0,525.5 L278.8,573.0 L278.8,624.0 L125.3,573.0Z" fill="#a9a9a9"/>
<path d="M126.0,525.5 L278.8,573.0 L278.8,618.6 L125.3,569.5Z" fill="#18a393"/>
<path d="M126.0,525.5 L278.8,573.0 L278.8,632.0 L125.3,579.2Z" fill="url(#gridL)"/>
<path d="M278.8,573.0 L446.0,543.9 L446.0,596.7 L278.8,632.0Z" fill="#b9511f"/>
<path d="M278.8,573.0 L446.0,543.9 L446.0,591.0 L278.8,624.0Z" fill="#8a8a8a"/>
<path d="M278.8,573.0 L446.0,543.9 L446.0,588.6 L278.8,618.6Z" fill="#0d7669"/>
<path d="M278.8,573.0 L446.0,543.9 L446.0,596.7 L278.8,632.0Z" fill="url(#gridR)"/>
<path d="M126.0,525.5 L278.8,573.0 L446.0,543.9 L300.0,503.0Z" fill="#0a6558"/>
<path d="M299.0,504.4 L312.5,508.1 L312.5,510.8 L299.0,507.1Z" fill="#cfcfcf"/>
<path d="M299.0,504.4 L312.5,508.1 L312.5,510.8 L299.0,507.1Z" fill="url(#gridLg)"/>
<path d="M149.4,527.5 L299.0,504.4 L299.0,508.2 L149.4,532.5Z" fill="#a9a9a9"/>
<path d="M149.4,527.5 L299.0,504.4 L299.0,508.2 L149.4,532.5Z" fill="url(#gridRg)"/>
<path d="M134.5,522.7 L149.4,527.5 L149.4,531.1 L134.5,526.3Z" fill="#cfcfcf"/>
<path d="M134.5,522.7 L149.4,527.5 L149.4,531.1 L134.5,526.3Z" fill="url(#gridLg)"/>
<path d="M134.5,522.7 L149.4,527.5 L311.1,502.5 L297.8,498.9Z" fill="#595959"/>
<path d="M134.5,522.7 L149.4,527.5 L311.1,502.5 L297.8,498.9Z" fill="url(#gridTop)"/>
<path d="M299.0,504.4 L312.5,508.1 L324.8,506.3 L311.1,502.5Z" fill="#595959"/>
<path d="M299.0,504.4 L312.5,508.1 L324.8,506.3 L311.1,502.5Z" fill="url(#gridTop)"/>
<path d="M161.7,531.4 L177.6,536.5 L342.5,511.1 L324.8,506.3Z" fill="#595959"/>
<path d="M161.7,531.4 L177.6,536.5 L342.5,511.1 L324.8,506.3Z" fill="url(#gridTop)"/>
<path d="M194.0,533.9 L342.5,511.1 L342.5,514.7 L194.0,538.8Z" fill="#a9a9a9"/>
<path d="M194.0,533.9 L342.5,511.1 L342.5,514.7 L194.0,538.8Z" fill="url(#gridRg)"/>
<path d="M177.6,536.5 L191.8,541.0 L208.2,538.4 L194.0,533.9Z" fill="#595959"/>
<path d="M177.6,536.5 L191.8,541.0 L208.2,538.4 L194.0,533.9Z" fill="url(#gridTop)"/>
<path d="M161.7,531.4 L207.9,546.2 L207.9,549.8 L161.7,535.0Z" fill="#cfcfcf"/>
<path d="M161.7,531.4 L207.9,546.2 L207.9,549.8 L161.7,535.0Z" fill="url(#gridLg)"/>
<path d="M359.9,521.2 L375.4,525.5 L375.4,528.2 L359.9,523.9Z" fill="#cfcfcf"/>
<path d="M359.9,521.2 L375.4,525.5 L375.4,528.2 L359.9,523.9Z" fill="url(#gridLg)"/>
<path d="M191.8,541.0 L207.9,546.2 L372.3,519.2 L355.7,514.7Z" fill="#595959"/>
<path d="M191.8,541.0 L207.9,546.2 L372.3,519.2 L355.7,514.7Z" fill="url(#gridTop)"/>
<path d="M207.9,546.2 L359.9,521.2 L359.9,525.0 L207.9,551.3Z" fill="#a9a9a9"/>
<path d="M207.9,546.2 L359.9,521.2 L359.9,525.0 L207.9,551.3Z" fill="url(#gridRg)"/>
<path d="M359.9,521.2 L375.4,525.5 L387.7,523.4 L372.3,519.2Z" fill="#595959"/>
<path d="M359.9,521.2 L375.4,525.5 L387.7,523.4 L372.3,519.2Z" fill="url(#gridTop)"/>
<path d="M223.2,551.1 L240.1,556.5 L404.9,528.1 L387.7,523.4Z" fill="#595959"/>
<path d="M223.2,551.1 L240.1,556.5 L404.9,528.1 L387.7,523.4Z" fill="url(#gridTop)"/>
<path d="M256.5,553.7 L404.9,528.1 L404.9,531.7 L256.5,558.6Z" fill="#a9a9a9"/>
<path d="M256.5,553.7 L404.9,528.1 L404.9,531.7 L256.5,558.6Z" fill="url(#gridRg)"/>
<path d="M240.1,556.5 L255.4,561.4 L271.9,558.5 L256.5,553.7Z" fill="#595959"/>
<path d="M240.1,556.5 L255.4,561.4 L271.9,558.5 L256.5,553.7Z" fill="url(#gridTop)"/>
<path d="M255.4,561.4 L272.5,566.9 L438.3,537.2 L420.0,532.2Z" fill="#595959"/>
<path d="M255.4,561.4 L272.5,566.9 L438.3,537.2 L420.0,532.2Z" fill="url(#gridTop)"/>
<path d="M223.2,551.1 L272.5,566.9 L272.5,570.5 L223.2,554.7Z" fill="#cfcfcf"/>
<path d="M223.2,551.1 L272.5,566.9 L272.5,570.5 L223.2,554.7Z" fill="url(#gridLg)"/>
<path d="M272.5,566.9 L438.3,537.2 L438.3,540.8 L272.5,571.9Z" fill="#a9a9a9"/>
<path d="M272.5,566.9 L438.3,537.2 L438.3,540.8 L272.5,571.9Z" fill="url(#gridRg)"/>
<path d="M421.3,528.6 L438.8,533.2 L438.5,536.6 L421.0,531.9Z" fill="#f0a070"/>
<text x="278" y="461.2" font-size="19" text-anchor="middle" fill="#2a9d96" textLength="131.5" lengthAdjust="spacingAndGlyphs">Model for MEA</text>
<g transform="translate(93,525) rotate(-8)" font-size="13.5" fill="#1a1a1a" text-anchor="middle"><text x="0" y="0">Feed</text><text x="3" y="15.5">inlet</text></g>
<path d="M119,529 L150,523.6" stroke="#111" stroke-width="1.5" fill="none"/><path d="M156,522.6 L146.5,520.6 L148,527.2Z" fill="#111"/>
<g transform="translate(457,507) rotate(-30)" font-size="13.5" fill="#14141c" text-anchor="middle"><text x="0" y="0">Dead</text><text x="-4" y="15">end</text></g>
<path d="M448,522.6 L438.5,527.4" stroke="#111" stroke-width="1.5" fill="none"/><path d="M433,530 L437.6,523.4 L440.6,529.6Z" fill="#111"/>
<text transform="translate(357.5,592) rotate(-13)" font-size="13.5" fill="#fff" text-anchor="middle">REM</text>
<text transform="translate(365,637.5) rotate(-13)" font-size="13.5" fill="#d9652f" text-anchor="middle">GDE</text>
<path d="M362.3,614 L364,620" stroke="#d9652f" stroke-width="1.2" fill="none"/><path d="M365.2,624.6 L361,619.6 L366.6,618Z" fill="#d9652f"/>
</g>
<g id="panel-e">
<defs>
<linearGradient id="eTop" gradientUnits="userSpaceOnUse" x1="670" y1="566" x2="862" y2="506"><stop offset="0" stop-color="#3aaee6"/><stop offset="0.3" stop-color="#359ce0"/><stop offset="0.55" stop-color="#3078cc"/><stop offset="0.8" stop-color="#2c54b2"/><stop offset="1" stop-color="#2a44a0"/></linearGradient>
<radialGradient id="eHot" gradientUnits="userSpaceOnUse" cx="0" cy="0" r="1" gradientTransform="translate(926,549.5) rotate(-10) scale(72,17)"><stop offset="0" stop-color="#9a1a22"/><stop offset="0.3" stop-color="#a81e24"/><stop offset="0.45" stop-color="#d8302a"/><stop offset="0.56" stop-color="#ee822a"/><stop offset="0.64" stop-color="#e0d232"/><stop offset="0.74" stop-color="#66bb6c" stop-opacity="0.95"/><stop offset="0.86" stop-color="#48b8c8" stop-opacity="0.6"/><stop offset="1" stop-color="#38a8e2" stop-opacity="0"/></radialGradient>
<radialGradient id="eHotR" gradientUnits="userSpaceOnUse" cx="0" cy="0" r="1" gradientTransform="translate(926,545) rotate(-10) scale(62,30)"><stop offset="0" stop-color="#9a1a22"/><stop offset="0.32" stop-color="#a81e24"/><stop offset="0.46" stop-color="#d8302a"/><stop offset="0.57" stop-color="#ee822a"/><stop offset="0.67" stop-color="#e0d232"/><stop offset="0.82" stop-color="#8cc258" stop-opacity="0.9"/><stop offset="1" stop-color="#66bb6c" stop-opacity="0"/></radialGradient>
<radialGradient id="eGreen" gradientUnits="userSpaceOnUse" cx="0" cy="0" r="1" gradientTransform="translate(612,530) rotate(12) scale(100,38)"><stop offset="0" stop-color="#6cbc78"/><stop offset="0.35" stop-color="#56b99a" stop-opacity="0.95"/><stop offset="0.7" stop-color="#40b0d0" stop-opacity="0.6"/><stop offset="1" stop-color="#38a8e2" stop-opacity="0"/></radialGradient>
<filter id="eBlur" x="-20%" y="-20%" width="140%" height="140%"><feGaussianBlur stdDeviation="3"/></filter>
<clipPath id="eTopClip"><path d="M613.0,529.0 L768.0,577.5 L938.2,547.9 L782.0,504.0Z"/></clipPath>
</defs>
<clipPath id="eClipL"><path d="M613.6,529.0 L768.0,576.8 L768.0,637.2 L612.9,581.6Z"/></clipPath>
<g clip-path="url(#eClipL)">
<path d="M613.6,529.0 L768.0,576.8 L768.0,637.2 L612.9,581.6Z" fill="#3080d6"/>
<path d="M614.0,498.1 L620.4,504.8 L626.7,511.7 L633.1,518.7 L639.5,525.2 L645.8,531.0 L652.2,536.1 L658.6,541.3 L665.1,546.2 L671.5,550.6 L677.9,554.1 L684.3,556.5 L690.8,558.4 L697.2,560.1 L703.6,561.7 L710.1,563.2 L716.5,564.6 L723.0,565.7 L729.4,566.0 L735.8,565.7 L742.3,564.9 L748.7,563.8 L755.1,562.6 L761.6,561.5 L768.0,560.6 L770.0,643.2 L610.9,587.6Z" fill="#338fda"/>
<path d="M614.0,501.4 L620.3,508.0 L626.7,514.9 L633.1,521.8 L639.4,528.4 L645.8,534.3 L652.2,539.9 L658.6,545.5 L665.0,551.0 L671.4,555.8 L677.9,559.6 L684.3,562.1 L690.7,563.9 L697.2,565.3 L703.6,566.4 L710.1,567.4 L716.5,568.2 L722.9,568.8 L729.4,568.9 L735.8,568.6 L742.3,567.8 L748.7,566.9 L755.1,565.9 L761.6,564.9 L768.0,564.1 L770.0,643.2 L610.9,587.6Z" fill="#3599de"/>
<path d="M613.9,504.7 L620.3,511.3 L626.6,518.1 L633.0,525.0 L639.4,531.6 L645.8,537.7 L652.2,543.5 L658.6,549.6 L665.0,555.5 L671.4,560.7 L677.8,564.9 L684.3,567.5 L690.7,569.0 L697.1,570.1 L703.6,570.7 L710.0,571.1 L716.5,571.4 L722.9,571.7 L729.4,571.6 L735.8,571.2 L742.3,570.6 L748.7,569.9 L755.1,569.1 L761.6,568.3 L768.0,567.6 L770.0,643.2 L610.9,587.6Z" fill="#37a3e0"/>
<path d="M613.9,508.0 L620.2,514.6 L626.6,521.4 L633.0,528.2 L639.4,534.8 L645.7,541.0 L652.1,547.2 L658.5,553.7 L664.9,560.0 L671.4,565.7 L677.8,570.1 L684.2,572.8 L690.7,574.2 L697.1,574.8 L703.6,574.8 L710.0,574.7 L716.5,574.5 L722.9,574.5 L729.4,574.3 L735.8,574.0 L742.3,573.5 L748.7,573.0 L755.1,572.4 L761.6,571.7 L768.0,571.2 L770.0,643.2 L610.9,587.6Z" fill="#3aaadb"/>
<path d="M613.8,511.2 L620.2,517.6 L626.6,524.1 L633.0,530.5 L639.3,536.9 L645.7,543.0 L652.1,549.0 L658.5,555.4 L664.9,561.7 L671.3,567.4 L677.8,571.8 L684.2,574.5 L690.7,575.9 L697.1,576.7 L703.6,576.9 L710.0,577.0 L716.5,577.0 L722.9,577.2 L729.4,577.1 L735.8,576.9 L742.3,576.5 L748.7,576.1 L755.1,575.6 L761.6,575.1 L768.0,574.7 L770.0,643.2 L610.9,587.6Z" fill="#3eaecc"/>
<path d="M613.8,514.5 L620.2,520.6 L626.5,526.7 L632.9,532.9 L639.3,539.0 L645.7,544.9 L652.1,550.8 L658.5,557.1 L664.9,563.4 L671.3,569.0 L677.8,573.5 L684.2,576.2 L690.6,577.7 L697.1,578.6 L703.6,579.0 L710.0,579.3 L716.5,579.5 L722.9,579.8 L729.4,579.9 L735.8,579.8 L742.2,579.6 L748.7,579.3 L755.1,578.9 L761.6,578.5 L768.0,578.2 L770.0,643.2 L610.9,587.6Z" fill="#42b2be"/>
<path d="M613.7,517.8 L620.1,523.6 L626.5,529.4 L632.9,535.3 L639.3,541.1 L645.7,546.8 L652.1,552.6 L658.5,558.9 L664.9,565.1 L671.3,570.7 L677.7,575.1 L684.2,577.8 L690.6,579.5 L697.1,580.5 L703.5,581.1 L710.0,581.6 L716.4,582.0 L722.9,582.4 L729.3,582.7 L735.8,582.7 L742.2,582.6 L748.7,582.4 L755.1,582.2 L761.6,581.9 L768.0,581.7 L770.0,643.2 L610.9,587.6Z" fill="#46b6af"/>
<path d="M613.7,521.1 L620.1,526.6 L626.5,532.1 L632.9,537.7 L639.3,543.3 L645.7,548.7 L652.1,554.4 L658.5,560.6 L664.9,566.8 L671.3,572.4 L677.7,576.8 L684.2,579.5 L690.6,581.2 L697.1,582.4 L703.5,583.2 L710.0,583.9 L716.4,584.5 L722.9,585.1 L729.3,585.4 L735.8,585.6 L742.2,585.6 L748.7,585.6 L755.1,585.4 L761.6,585.3 L768.0,585.3 L770.0,643.2 L610.9,587.6Z" fill="#4cb8a0"/>
<path d="M613.7,524.4 L620.1,529.4 L626.4,534.5 L632.8,539.6 L639.2,544.8 L645.7,550.0 L652.1,555.5 L658.5,561.7 L664.9,567.9 L671.3,573.6 L677.7,578.1 L684.2,580.8 L690.6,582.5 L697.1,583.8 L703.5,584.7 L710.0,585.5 L716.4,586.2 L722.9,586.8 L729.3,587.3 L735.8,587.5 L742.2,587.5 L748.7,587.4 L755.1,587.3 L761.6,587.1 L768.0,587.1 L770.0,643.2 L610.9,587.6Z" fill="#53b992"/>
<path d="M613.6,527.7 L620.0,532.3 L626.4,536.9 L632.8,541.6 L639.2,546.4 L645.6,551.2 L652.0,556.6 L658.5,562.7 L664.9,569.0 L671.3,574.7 L677.7,579.3 L684.2,582.1 L690.6,583.8 L697.1,585.2 L703.5,586.2 L710.0,587.1 L716.4,587.9 L722.9,588.6 L729.3,589.1 L735.8,589.3 L742.2,589.3 L748.7,589.2 L755.1,589.1 L761.6,588.9 L768.0,588.9 L770.0,643.2 L610.9,587.6Z" fill="#5bba82"/>
<path d="M613.6,531.0 L620.0,535.2 L626.4,539.4 L632.8,543.6 L639.2,547.9 L645.6,552.5 L652.0,557.7 L658.4,563.7 L664.9,570.0 L671.3,575.9 L677.7,580.5 L684.1,583.3 L690.6,585.2 L697.1,586.6 L703.5,587.7 L710.0,588.7 L716.4,589.6 L722.9,590.4 L729.3,590.9 L735.8,591.1 L742.2,591.2 L748.7,591.1 L755.1,590.9 L761.6,590.7 L768.0,590.7 L770.0,643.2 L610.9,587.6Z" fill="#62bb74"/>
<path d="M613.5,534.3 L619.9,538.1 L626.4,541.8 L632.8,545.6 L639.2,549.6 L645.6,553.8 L652.0,558.7 L658.4,564.7 L664.8,571.1 L671.3,577.0 L677.7,581.8 L684.1,584.6 L690.6,586.5 L697.0,588.0 L703.5,589.2 L710.0,590.3 L716.4,591.3 L722.9,592.2 L729.3,592.7 L735.8,593.0 L742.2,593.0 L748.7,592.9 L755.1,592.7 L761.6,592.6 L768.0,592.5 L770.0,643.2 L610.9,587.6Z" fill="#76be62"/>
<path d="M613.5,536.9 L619.9,540.5 L626.3,544.1 L632.8,547.7 L639.2,551.5 L645.6,555.6 L652.0,560.4 L658.4,566.3 L664.8,572.6 L671.3,578.5 L677.7,583.3 L684.1,586.1 L690.6,588.0 L697.0,589.6 L703.5,590.9 L709.9,592.0 L716.4,593.0 L722.9,594.0 L729.3,594.6 L735.8,594.8 L742.2,594.9 L748.7,594.9 L755.1,594.7 L761.6,594.6 L768.0,594.6 L770.0,643.2 L610.9,587.6Z" fill="#98c54e"/>
<path d="M613.5,539.5 L619.9,543.0 L626.3,546.4 L632.7,549.8 L639.2,553.5 L645.6,557.3 L652.0,562.0 L658.4,567.9 L664.8,574.2 L671.2,580.1 L677.7,584.8 L684.1,587.7 L690.6,589.6 L697.0,591.2 L703.5,592.5 L709.9,593.7 L716.4,594.7 L722.9,595.7 L729.3,596.4 L735.8,596.7 L742.2,596.8 L748.7,596.8 L755.1,596.7 L761.6,596.7 L768.0,596.7 L770.0,643.2 L610.9,587.6Z" fill="#b6ca40"/>
<path d="M613.4,542.1 L619.9,545.5 L626.3,548.7 L632.7,552.0 L639.1,555.4 L645.6,559.1 L652.0,563.7 L658.4,569.4 L664.8,575.7 L671.2,581.6 L677.7,586.4 L684.1,589.2 L690.6,591.2 L697.0,592.8 L703.5,594.1 L709.9,595.3 L716.4,596.5 L722.8,597.5 L729.3,598.2 L735.8,598.6 L742.2,598.7 L748.7,598.8 L755.1,598.7 L761.6,598.7 L768.0,598.8 L770.0,643.2 L610.9,587.6Z" fill="#d2d036"/>
<path d="M613.4,544.8 L619.8,547.9 L626.2,551.0 L632.7,554.1 L639.1,557.4 L645.5,560.9 L652.0,565.3 L658.4,571.0 L664.8,577.2 L671.2,583.1 L677.6,587.9 L684.1,590.8 L690.6,592.7 L697.0,594.4 L703.5,595.8 L709.9,597.0 L716.4,598.2 L722.8,599.3 L729.3,600.0 L735.8,600.4 L742.2,600.6 L748.7,600.7 L755.1,600.8 L761.6,600.8 L768.0,601.0 L770.0,643.2 L610.9,587.6Z" fill="#e2c831"/>
<path d="M613.4,546.0 L619.8,549.1 L626.2,552.2 L632.7,555.3 L639.1,558.6 L645.5,562.2 L652.0,566.5 L658.4,572.2 L664.8,578.4 L671.2,584.2 L677.6,589.0 L684.1,591.9 L690.5,593.9 L697.0,595.5 L703.5,596.9 L709.9,598.2 L716.4,599.4 L722.8,600.5 L729.3,601.3 L735.7,601.7 L742.2,602.0 L748.7,602.1 L755.1,602.2 L761.6,602.3 L768.0,602.5 L770.0,643.2 L610.9,587.6Z" fill="#e5b42f"/>
<path d="M613.4,547.1 L619.8,550.3 L626.2,553.4 L632.7,556.5 L639.1,559.8 L645.5,563.4 L651.9,567.8 L658.4,573.4 L664.8,579.5 L671.2,585.4 L677.6,590.1 L684.1,593.0 L690.5,595.0 L697.0,596.7 L703.5,598.1 L709.9,599.4 L716.4,600.6 L722.8,601.8 L729.3,602.5 L735.7,603.1 L742.2,603.3 L748.7,603.5 L755.1,603.6 L761.6,603.7 L768.0,604.0 L770.0,643.2 L610.9,587.6Z" fill="#e9a02d"/>
<path d="M613.3,548.3 L619.8,551.5 L626.2,554.6 L632.6,557.7 L639.1,561.0 L645.5,564.6 L651.9,569.0 L658.3,574.6 L664.8,580.7 L671.2,586.5 L677.6,591.3 L684.1,594.2 L690.5,596.1 L697.0,597.8 L703.5,599.3 L709.9,600.6 L716.4,601.9 L722.8,603.0 L729.3,603.8 L735.7,604.4 L742.2,604.7 L748.6,604.9 L755.1,605.1 L761.6,605.2 L768.0,605.5 L770.0,643.2 L610.9,587.6Z" fill="#ec8c2b"/>
<path d="M613.3,549.5 L619.8,552.7 L626.2,555.8 L632.6,558.9 L639.1,562.2 L645.5,565.8 L651.9,570.2 L658.3,575.8 L664.8,581.9 L671.2,587.7 L677.6,592.4 L684.1,595.3 L690.5,597.3 L697.0,599.0 L703.4,600.5 L709.9,601.8 L716.4,603.1 L722.8,604.3 L729.3,605.1 L735.7,605.7 L742.2,606.1 L748.6,606.3 L755.1,606.5 L761.6,606.7 L768.0,607.0 L770.0,643.2 L610.9,587.6Z" fill="#eb782a"/>
<path d="M613.3,551.0 L619.7,554.1 L626.2,557.2 L632.6,560.4 L639.0,563.6 L645.5,567.2 L651.9,571.5 L658.3,577.0 L664.7,583.0 L671.2,588.7 L677.6,593.4 L684.1,596.3 L690.5,598.3 L697.0,600.0 L703.4,601.6 L709.9,603.0 L716.4,604.3 L722.8,605.5 L729.3,606.4 L735.7,607.0 L742.2,607.3 L748.6,607.5 L755.1,607.7 L761.6,607.9 L768.0,608.2 L770.0,643.2 L610.9,587.6Z" fill="#e66329"/>
<path d="M613.3,552.4 L619.7,555.6 L626.2,558.6 L632.6,561.8 L639.0,565.0 L645.5,568.5 L651.9,572.8 L658.3,578.3 L664.7,584.2 L671.2,589.8 L677.6,594.4 L684.1,597.2 L690.5,599.3 L697.0,601.1 L703.4,602.7 L709.9,604.1 L716.4,605.5 L722.8,606.8 L729.3,607.7 L735.7,608.2 L742.2,608.6 L748.6,608.8 L755.1,609.0 L761.6,609.1 L768.0,609.4 L770.0,643.2 L610.9,587.6Z" fill="#e04f29"/>
<path d="M613.3,553.9 L619.7,557.0 L626.1,560.1 L632.6,563.2 L639.0,566.4 L645.5,569.9 L651.9,574.1 L658.3,579.5 L664.7,585.3 L671.2,590.8 L677.6,595.4 L684.0,598.2 L690.5,600.3 L697.0,602.1 L703.4,603.8 L709.9,605.3 L716.3,606.7 L722.8,608.0 L729.3,608.9 L735.7,609.5 L742.2,609.9 L748.6,610.1 L755.1,610.2 L761.5,610.3 L768.0,610.6 L770.0,643.2 L610.9,587.6Z" fill="#db3a28"/>
<path d="M613.2,555.3 L619.7,558.4 L626.1,561.5 L632.6,564.6 L639.0,567.8 L645.4,571.3 L651.9,575.4 L658.3,580.7 L664.7,586.4 L671.1,591.9 L677.6,596.4 L684.0,599.2 L690.5,601.3 L697.0,603.2 L703.4,604.9 L709.9,606.4 L716.3,607.9 L722.8,609.3 L729.3,610.2 L735.7,610.8 L742.2,611.1 L748.6,611.3 L755.1,611.4 L761.5,611.6 L768.0,611.8 L770.0,643.2 L610.9,587.6Z" fill="#d02d27"/>
<path d="M613.2,559.9 L619.6,562.9 L626.1,565.8 L632.5,568.7 L639.0,571.7 L645.4,575.0 L651.8,578.8 L658.3,583.6 L664.7,588.7 L671.1,593.6 L677.6,597.7 L684.0,600.5 L690.5,602.6 L697.0,604.5 L703.4,606.3 L709.9,608.0 L716.3,609.6 L722.8,611.1 L729.3,612.2 L735.7,613.0 L742.2,613.5 L748.6,613.9 L755.1,614.3 L761.5,614.7 L768.0,615.2 L770.0,643.2 L610.9,587.6Z" fill="#c12826"/>
<path d="M613.1,564.5 L619.6,567.3 L626.0,570.0 L632.5,572.8 L638.9,575.7 L645.4,578.7 L651.8,582.2 L658.2,586.4 L664.7,590.9 L671.1,595.3 L677.6,599.1 L684.0,601.7 L690.5,603.9 L696.9,605.9 L703.4,607.8 L709.9,609.6 L716.3,611.3 L722.8,612.9 L729.3,614.2 L735.7,615.2 L742.2,616.0 L748.6,616.6 L755.1,617.2 L761.5,617.8 L768.0,618.5 L770.0,643.2 L610.9,587.6Z" fill="#b12224"/>
<path d="M613.1,569.1 L619.5,571.7 L626.0,574.3 L632.4,576.9 L638.9,579.6 L645.3,582.4 L651.8,585.5 L658.2,589.2 L664.7,593.2 L671.1,597.0 L677.6,600.4 L684.0,603.0 L690.5,605.2 L696.9,607.3 L703.4,609.3 L709.9,611.2 L716.3,613.0 L722.8,614.8 L729.2,616.2 L735.7,617.4 L742.2,618.4 L748.6,619.2 L755.1,620.0 L761.5,620.9 L768.0,621.8 L770.0,643.2 L610.9,587.6Z" fill="#a21d23"/>
<path d="M613.0,573.7 L619.5,576.2 L625.9,578.6 L632.4,581.0 L638.8,583.5 L645.3,586.1 L651.7,588.9 L658.2,592.1 L664.6,595.4 L671.1,598.8 L677.5,601.8 L684.0,604.3 L690.5,606.5 L696.9,608.7 L703.4,610.7 L709.9,612.8 L716.3,614.7 L722.8,616.6 L729.2,618.2 L735.7,619.6 L742.2,620.8 L748.6,621.8 L755.1,622.9 L761.5,624.0 L768.0,625.1 L770.0,643.2 L610.9,587.6Z" fill="#9a1a22"/>
</g>
<clipPath id="eClipR"><path d="M768.0,576.8 L937.6,547.6 L937.6,602.0 L768.0,637.2Z"/></clipPath>
<g clip-path="url(#eClipR)">
<path d="M768.0,576.8 L937.6,547.6 L937.6,602.0 L768.0,637.2Z" fill="#38a8e2"/>
<path d="M768.0,574.7 L775.1,574.5 L782.1,574.6 L789.2,574.5 L796.3,574.3 L803.3,573.7 L810.4,572.6 L817.5,571.2 L824.5,569.7 L831.6,568.1 L838.7,566.3 L845.7,564.3 L852.8,562.2 L859.9,551.2 L866.9,505.1 L874.0,439.5 L881.1,373.2 L888.1,325.0 L895.2,311.8 L902.3,313.5 L909.3,317.0 L916.4,321.8 L923.5,327.1 L930.5,332.3 L937.6,336.8 L939.6,608.0 L766.0,643.2Z" fill="#3eaecc"/>
<path d="M768.0,578.2 L775.1,577.6 L782.1,577.1 L789.2,576.6 L796.3,575.9 L803.3,575.1 L810.4,573.9 L817.5,572.6 L824.5,571.1 L831.6,569.5 L838.7,567.7 L845.7,565.8 L852.8,563.8 L859.9,554.3 L866.9,515.7 L874.0,460.8 L881.1,405.3 L888.1,364.9 L895.2,353.7 L902.3,354.7 L909.3,357.1 L916.4,360.4 L923.5,364.1 L930.5,367.7 L937.6,370.8 L939.6,608.0 L766.0,643.2Z" fill="#42b2be"/>
<path d="M768.0,581.7 L775.1,580.7 L782.1,579.7 L789.2,578.6 L796.3,577.6 L803.3,576.5 L810.4,575.2 L817.5,573.9 L824.5,572.4 L831.6,570.8 L838.7,569.2 L845.7,567.4 L852.8,565.4 L859.9,557.5 L866.9,526.3 L874.0,482.1 L881.1,437.4 L888.1,404.9 L895.2,395.6 L902.3,396.0 L909.3,397.2 L916.4,399.0 L923.5,401.1 L930.5,403.1 L937.6,404.8 L939.6,608.0 L766.0,643.2Z" fill="#46b6af"/>
<path d="M768.0,585.3 L775.1,583.8 L782.1,582.4 L789.2,580.9 L796.3,579.5 L803.3,578.0 L810.4,576.5 L817.5,575.0 L824.5,573.5 L831.6,572.0 L838.7,570.5 L845.7,568.8 L852.8,567.0 L859.9,560.7 L866.9,536.9 L874.0,503.4 L881.1,469.5 L888.1,444.8 L895.2,437.5 L902.3,437.2 L909.3,437.3 L916.4,437.6 L923.5,438.1 L930.5,438.5 L937.6,438.8 L939.6,608.0 L766.0,643.2Z" fill="#4cb8a0"/>
<path d="M768.0,587.1 L775.1,585.8 L782.1,584.5 L789.2,583.2 L796.3,581.9 L803.3,580.5 L810.4,579.2 L817.5,577.8 L824.5,576.3 L831.6,574.7 L838.7,573.1 L845.7,571.3 L852.8,569.5 L859.9,564.6 L866.9,548.2 L874.0,525.3 L881.1,502.2 L888.1,485.0 L895.2,479.3 L902.3,478.1 L909.3,477.0 L916.4,475.9 L923.5,474.9 L930.5,473.9 L937.6,472.8 L939.6,608.0 L766.0,643.2Z" fill="#53b992"/>
<path d="M768.0,588.9 L775.1,587.7 L782.1,586.6 L789.2,585.5 L796.3,584.3 L803.3,583.1 L810.4,581.9 L817.5,580.5 L824.5,579.0 L831.6,577.4 L838.7,575.7 L845.7,573.9 L852.8,571.9 L859.9,568.6 L866.9,559.9 L874.0,548.1 L881.1,535.9 L888.1,526.0 L895.2,520.8 L902.3,517.9 L909.3,515.4 L916.4,513.2 L923.5,511.1 L930.5,509.0 L937.6,506.8 L939.6,608.0 L766.0,643.2Z" fill="#5bba82"/>
<path d="M768.0,590.7 L775.1,589.7 L782.1,588.8 L789.2,587.9 L796.3,586.9 L803.3,585.8 L810.4,584.5 L817.5,583.1 L824.5,581.4 L831.6,579.7 L838.7,577.9 L845.7,576.1 L852.8,574.3 L859.9,572.5 L866.9,570.8 L874.0,569.0 L881.1,567.2 L888.1,565.2 L895.2,563.0 L902.3,560.2 L909.3,556.7 L916.4,552.8 L923.5,548.7 L930.5,544.6 L937.6,540.8 L939.6,608.0 L766.0,643.2Z" fill="#62bb74"/>
<path d="M768.0,592.5 L775.1,591.7 L782.1,591.0 L789.2,590.2 L796.3,589.4 L803.3,588.4 L810.4,587.1 L817.5,585.6 L824.5,583.8 L831.6,581.8 L838.7,579.9 L845.7,578.1 L852.8,576.6 L859.9,575.6 L866.9,575.7 L874.0,576.7 L881.1,577.8 L888.1,578.6 L895.2,578.6 L902.3,578.2 L909.3,577.6 L916.4,576.9 L923.5,576.2 L930.5,575.5 L937.6,574.8 L939.6,608.0 L766.0,643.2Z" fill="#76be62"/>
<path d="M768.0,594.6 L775.1,594.1 L782.1,593.6 L789.2,593.1 L796.3,592.5 L803.3,591.6 L810.4,590.4 L817.5,588.9 L824.5,587.4 L831.6,585.8 L838.7,584.2 L845.7,582.6 L852.8,581.2 L859.9,580.1 L866.9,580.1 L874.0,580.7 L881.1,581.5 L888.1,582.1 L895.2,582.0 L902.3,581.4 L909.3,580.8 L916.4,580.1 L923.5,579.3 L930.5,578.5 L937.6,577.8 L939.6,608.0 L766.0,643.2Z" fill="#98c54e"/>
<path d="M768.0,596.7 L775.1,596.4 L782.1,596.2 L789.2,596.0 L796.3,595.6 L803.3,594.9 L810.4,593.6 L817.5,592.3 L824.5,591.0 L831.6,589.7 L838.7,588.4 L845.7,587.1 L852.8,585.7 L859.9,584.6 L866.9,584.4 L874.0,584.7 L881.1,585.3 L888.1,585.6 L895.2,585.3 L902.3,584.7 L909.3,584.0 L916.4,583.2 L923.5,582.4 L930.5,581.6 L937.6,580.8 L939.6,608.0 L766.0,643.2Z" fill="#b6ca40"/>
<path d="M768.0,598.8 L775.1,598.7 L782.1,598.7 L789.2,598.6 L796.3,598.4 L803.3,597.9 L810.4,597.0 L817.5,595.9 L824.5,594.8 L831.6,593.6 L838.7,592.4 L845.7,591.3 L852.8,590.2 L859.9,589.3 L866.9,589.0 L874.0,589.0 L881.1,589.1 L888.1,589.1 L895.2,588.6 L902.3,587.9 L909.3,587.2 L916.4,586.3 L923.5,585.5 L930.5,584.6 L937.6,583.8 L939.6,608.0 L766.0,643.2Z" fill="#d2d036"/>
<path d="M768.0,601.0 L775.1,601.0 L782.1,601.2 L789.2,601.3 L796.3,601.3 L803.3,601.0 L810.4,600.4 L817.5,599.5 L824.5,598.6 L831.6,597.6 L838.7,596.6 L845.7,595.6 L852.8,594.7 L859.9,594.0 L866.9,593.5 L874.0,593.2 L881.1,593.0 L888.1,592.6 L895.2,592.0 L902.3,591.2 L909.3,590.4 L916.4,589.5 L923.5,588.6 L930.5,587.7 L937.6,586.8 L939.6,608.0 L766.0,643.2Z" fill="#e2c831"/>
<path d="M768.0,602.5 L775.1,602.5 L782.1,602.7 L789.2,602.8 L796.3,602.8 L803.3,602.5 L810.4,601.8 L817.5,600.9 L824.5,599.9 L831.6,598.8 L838.7,597.7 L845.7,596.7 L852.8,595.7 L859.9,595.0 L866.9,594.5 L874.0,594.3 L881.1,594.0 L888.1,593.7 L895.2,593.1 L902.3,592.3 L909.3,591.5 L916.4,590.6 L923.5,589.7 L930.5,588.8 L937.6,587.9 L939.6,608.0 L766.0,643.2Z" fill="#e5b42f"/>
<path d="M768.0,604.0 L775.1,604.0 L782.1,604.2 L789.2,604.4 L796.3,604.4 L803.3,604.0 L810.4,603.2 L817.5,602.3 L824.5,601.2 L831.6,600.0 L838.7,598.9 L845.7,597.8 L852.8,596.8 L859.9,595.9 L866.9,595.5 L874.0,595.3 L881.1,595.1 L888.1,594.8 L895.2,594.2 L902.3,593.4 L909.3,592.6 L916.4,591.7 L923.5,590.8 L930.5,589.8 L937.6,588.9 L939.6,608.0 L766.0,643.2Z" fill="#e9a02d"/>
<path d="M768.0,605.5 L775.1,605.6 L782.1,605.8 L789.2,605.9 L796.3,605.9 L803.3,605.5 L810.4,604.7 L817.5,603.6 L824.5,602.5 L831.6,601.3 L838.7,600.1 L845.7,598.9 L852.8,597.8 L859.9,596.9 L866.9,596.4 L874.0,596.3 L881.1,596.1 L888.1,595.9 L895.2,595.3 L902.3,594.5 L909.3,593.7 L916.4,592.8 L923.5,591.9 L930.5,590.9 L937.6,590.0 L939.6,608.0 L766.0,643.2Z" fill="#ec8c2b"/>
<path d="M768.0,607.0 L775.1,607.1 L782.1,607.3 L789.2,607.5 L796.3,607.5 L803.3,607.1 L810.4,606.1 L817.5,605.0 L824.5,603.7 L831.6,602.5 L838.7,601.2 L845.7,600.0 L852.8,598.8 L859.9,597.9 L866.9,597.4 L874.0,597.3 L881.1,597.2 L888.1,597.0 L895.2,596.4 L902.3,595.7 L909.3,594.8 L916.4,593.9 L923.5,593.0 L930.5,592.0 L937.6,591.1 L939.6,608.0 L766.0,643.2Z" fill="#eb782a"/>
<path d="M768.0,608.2 L775.1,608.3 L782.1,608.5 L789.2,608.7 L796.3,608.7 L803.3,608.3 L810.4,607.3 L817.5,606.1 L824.5,604.9 L831.6,603.6 L838.7,602.3 L845.7,601.0 L852.8,599.8 L859.9,598.9 L866.9,598.4 L874.0,598.3 L881.1,598.3 L888.1,598.1 L895.2,597.6 L902.3,596.8 L909.3,595.9 L916.4,595.0 L923.5,594.1 L930.5,593.1 L937.6,592.2 L939.6,608.0 L766.0,643.2Z" fill="#e66329"/>
<path d="M768.0,609.4 L775.1,609.5 L782.1,609.7 L789.2,609.9 L796.3,609.9 L803.3,609.5 L810.4,608.5 L817.5,607.2 L824.5,606.0 L831.6,604.7 L838.7,603.4 L845.7,602.1 L852.8,600.9 L859.9,599.8 L866.9,599.4 L874.0,599.3 L881.1,599.3 L888.1,599.2 L895.2,598.7 L902.3,597.9 L909.3,597.0 L916.4,596.1 L923.5,595.2 L930.5,594.2 L937.6,593.3 L939.6,608.0 L766.0,643.2Z" fill="#e04f29"/>
<path d="M768.0,610.6 L775.1,610.7 L782.1,610.9 L789.2,611.2 L796.3,611.1 L803.3,610.7 L810.4,609.6 L817.5,608.4 L824.5,607.1 L831.6,605.8 L838.7,604.4 L845.7,603.1 L852.8,601.9 L859.9,600.8 L866.9,600.4 L874.0,600.4 L881.1,600.4 L888.1,600.3 L895.2,599.8 L902.3,599.0 L909.3,598.2 L916.4,597.2 L923.5,596.3 L930.5,595.3 L937.6,594.4 L939.6,608.0 L766.0,643.2Z" fill="#db3a28"/>
<path d="M768.0,611.8 L775.1,611.9 L782.1,612.2 L789.2,612.4 L796.3,612.3 L803.3,611.9 L810.4,610.8 L817.5,609.5 L824.5,608.2 L831.6,606.8 L838.7,605.5 L845.7,604.2 L852.8,602.9 L859.9,601.8 L866.9,601.4 L874.0,601.4 L881.1,601.5 L888.1,601.4 L895.2,600.9 L902.3,600.1 L909.3,599.3 L916.4,598.3 L923.5,597.4 L930.5,596.4 L937.6,595.5 L939.6,608.0 L766.0,643.2Z" fill="#d02d27"/>
<path d="M768.0,615.2 L775.1,615.0 L782.1,615.1 L789.2,615.1 L796.3,614.9 L803.3,614.3 L810.4,613.1 L817.5,611.8 L824.5,610.5 L831.6,609.1 L838.7,607.7 L845.7,606.4 L852.8,605.1 L859.9,603.9 L866.9,603.4 L874.0,603.3 L881.1,603.4 L888.1,603.3 L895.2,602.7 L902.3,602.0 L909.3,601.1 L916.4,600.2 L923.5,599.2 L930.5,598.3 L937.6,597.4 L939.6,608.0 L766.0,643.2Z" fill="#c12826"/>
<path d="M768.0,618.5 L775.1,618.2 L782.1,618.0 L789.2,617.8 L796.3,617.4 L803.3,616.7 L810.4,615.5 L817.5,614.1 L824.5,612.7 L831.6,611.4 L838.7,610.0 L845.7,608.6 L852.8,607.2 L859.9,606.0 L866.9,605.5 L874.0,605.3 L881.1,605.3 L888.1,605.1 L895.2,604.5 L902.3,603.8 L909.3,602.9 L916.4,602.0 L923.5,601.1 L930.5,600.2 L937.6,599.3 L939.6,608.0 L766.0,643.2Z" fill="#b12224"/>
<path d="M768.0,621.8 L775.1,621.3 L782.1,620.9 L789.2,620.5 L796.3,620.0 L803.3,619.1 L810.4,617.8 L817.5,616.4 L824.5,615.0 L831.6,613.6 L838.7,612.2 L845.7,610.8 L852.8,609.4 L859.9,608.2 L866.9,607.5 L874.0,607.3 L881.1,607.1 L888.1,606.9 L895.2,606.4 L902.3,605.6 L909.3,604.8 L916.4,603.9 L923.5,603.0 L930.5,602.1 L937.6,601.2 L939.6,608.0 L766.0,643.2Z" fill="#a21d23"/>
<path d="M768.0,625.1 L775.1,624.4 L782.1,623.9 L789.2,623.2 L796.3,622.5 L803.3,621.5 L810.4,620.2 L817.5,618.7 L824.5,617.3 L831.6,615.9 L838.7,614.4 L845.7,613.0 L852.8,611.6 L859.9,610.3 L866.9,609.6 L874.0,609.2 L881.1,609.0 L888.1,608.8 L895.2,608.2 L902.3,607.4 L909.3,606.6 L916.4,605.7 L923.5,604.9 L930.5,604.0 L937.6,603.1 L939.6,608.0 L766.0,643.2Z" fill="#9a1a22"/>
</g>
<g clip-path="url(#eClipR)"><ellipse cx="926" cy="546" rx="70" ry="45" fill="url(#eHotR)"/></g>
<path d="M768.0,576.8 L937.6,547.6 L937.6,602.0 L768.0,637.2Z" fill="#000" opacity="0.06"/>
<path d="M613.6,529.0 L768.0,576.8 L937.6,547.6 L782.0,504.6Z" fill="url(#eTop)" stroke="url(#eTop)" stroke-width="1.2" stroke-linejoin="round"/>
<g clip-path="url(#eTopClip)">
<path d="M760.2,566.3 L788.1,574.8 L906.8,554.3 L878.8,546.4Z" fill="#37aee8" opacity="0.9" filter="url(#eBlur)"/>
<path d="M635.8,524.4 L660.5,531.9 L807.2,510.1 L782.3,503.3Z" fill="#3a96da" opacity="0.6" filter="url(#eBlur)"/>
<path d="M608.5,529.7 L762.9,577.7 L795.1,572.1 L654.0,523.1Z" fill="#38b0ea" opacity="0.9" filter="url(#eBlur)"/>
<path d="M745.0,526.9 L797.8,550.0 L901.4,539.8 L808.1,514.0Z" fill="#2a3f9a" opacity="0.55" filter="url(#eBlur)"/>
<ellipse cx="612" cy="531" rx="108" ry="50" fill="url(#eGreen)"/>
<ellipse cx="926" cy="549" rx="80" ry="34" fill="url(#eHot)"/>
<line x1="632.1" y1="534.7" x2="785.8" y2="510.6" stroke="#2b3f9c" stroke-width="0.6" opacity="0.45"/>
<line x1="661.3" y1="536.0" x2="813.1" y2="513.2" stroke="#2b3f9c" stroke-width="0.6" opacity="0.45"/>
<line x1="676.8" y1="540.8" x2="830.2" y2="517.9" stroke="#2b3f9c" stroke-width="0.6" opacity="0.45"/>
<line x1="678.4" y1="549.1" x2="835.5" y2="524.5" stroke="#2b3f9c" stroke-width="0.6" opacity="0.45"/>
<line x1="695.4" y1="554.3" x2="852.6" y2="529.3" stroke="#2b3f9c" stroke-width="0.6" opacity="0.45"/>
<line x1="730.1" y1="557.1" x2="881.6" y2="532.1" stroke="#2b3f9c" stroke-width="0.6" opacity="0.45"/>
<line x1="747.9" y1="562.5" x2="900.3" y2="537.3" stroke="#2b3f9c" stroke-width="0.6" opacity="0.45"/>
<line x1="747.9" y1="570.6" x2="905.5" y2="544.0" stroke="#2b3f9c" stroke-width="0.6" opacity="0.45"/>
</g>
<path d="M612.9,575.8 L768.0,630.7 L937.6,596.5" fill="none" stroke="#3a2a80" stroke-width="0.6" opacity="0.55"/>
<path d="M612.9,573.5 L768.0,628.2 L937.6,594.4" fill="none" stroke="#3a2a80" stroke-width="0.6" opacity="0.55"/>
<path d="M768.0,576.8 L768.0,637.2" stroke="#2c3a90" stroke-width="0.6" opacity="0.4"/>
<defs><linearGradient id="cbar" x1="0" y1="0" x2="0" y2="1"><stop offset="0.001" stop-color="#9a1a22"/><stop offset="0.012" stop-color="#9a1a22"/><stop offset="0.123" stop-color="#d83028"/><stop offset="0.233" stop-color="#ee822a"/><stop offset="0.343" stop-color="#e0d232"/><stop offset="0.399" stop-color="#a8c844"/><stop offset="0.454" stop-color="#66bb6c"/><stop offset="0.564" stop-color="#48b8a8"/><stop offset="0.674" stop-color="#38a8e2"/><stop offset="0.785" stop-color="#3080d6"/><stop offset="0.895" stop-color="#2d60c0"/><stop offset="1.000" stop-color="#293d99"/></linearGradient></defs>
<rect x="563.4" y="469.3" width="10" height="186.7" fill="url(#cbar)"/>
<line x1="569.6" y1="636.4" x2="573.4" y2="636.4" stroke="#111" stroke-width="1"/>
<text x="581.8" y="641.8" font-size="15.2" fill="#222">2</text>
<line x1="569.6" y1="615.8" x2="573.4" y2="615.8" stroke="#111" stroke-width="1"/>
<text x="581.8" y="621.2" font-size="15.2" fill="#222">3</text>
<line x1="569.6" y1="595.2" x2="573.4" y2="595.2" stroke="#111" stroke-width="1"/>
<text x="581.8" y="600.6" font-size="15.2" fill="#222">4</text>
<line x1="569.6" y1="574.6" x2="573.4" y2="574.6" stroke="#111" stroke-width="1"/>
<text x="581.8" y="580.0" font-size="15.2" fill="#222">5</text>
<line x1="569.6" y1="554.0" x2="573.4" y2="554.0" stroke="#111" stroke-width="1"/>
<text x="581.8" y="559.4" font-size="15.2" fill="#222">6</text>
<line x1="569.6" y1="533.4" x2="573.4" y2="533.4" stroke="#111" stroke-width="1"/>
<text x="581.8" y="538.8" font-size="15.2" fill="#222">7</text>
<line x1="569.6" y1="512.8" x2="573.4" y2="512.8" stroke="#111" stroke-width="1"/>
<text x="581.8" y="518.2" font-size="15.2" fill="#222">8</text>
<line x1="569.6" y1="492.2" x2="573.4" y2="492.2" stroke="#111" stroke-width="1"/>
<text x="581.8" y="497.6" font-size="15.2" fill="#222">9</text>
<line x1="569.6" y1="471.6" x2="573.4" y2="471.6" stroke="#111" stroke-width="1"/>
<text x="581.8" y="477.0" font-size="15.2" fill="#222">10</text>
<text x="581.8" y="660.6" font-size="15.2" fill="#222">0</text>
<path d="M555.7,421 L562.2,409.3 L568.7,421Z" fill="#111"/>
<text x="576.5" y="420.5" font-size="15" fill="#222" textLength="59" lengthAdjust="spacingAndGlyphs">mol m<tspan font-size="9.5" dy="-6.5">−3</tspan></text>
<text x="576" y="437" font-size="15" fill="#222" textLength="60.5" lengthAdjust="spacingAndGlyphs">1.1 × 10<tspan font-size="9.5" dy="-6.5">−1</tspan></text>
<text x="579.5" y="455.5" font-size="15" fill="#222">× 10<tspan font-size="9.5" dy="-6.5">−2</tspan></text>
<text transform="translate(528.5,563.3) rotate(-90)" font-size="17.5" text-anchor="middle" fill="#222" textLength="169" lengthAdjust="spacingAndGlyphs">HO<tspan font-size="11" dy="4">2</tspan><tspan font-size="11" dy="-11" dx="-6">−</tspan><tspan dy="7"> concentration</tspan></text>
<text transform="translate(552,564.3) rotate(-90)" font-size="17.5" text-anchor="middle" fill="#222" textLength="98.5" lengthAdjust="spacingAndGlyphs">distribution</text>
<text transform="translate(864,593.5) rotate(-10.5)" font-size="17" fill="#fff" text-anchor="middle">REM</text>
<text transform="translate(876,641) rotate(-8.5)" font-size="17" fill="#a8202c" text-anchor="middle">GDE</text>
<path d="M870.6,613.5 L872.4,620" stroke="#a8202c" stroke-width="1.2" fill="none"/><path d="M873.6,624.4 L869.4,619.4 L875,618Z" fill="#a8202c"/>
</g>
<g id="panel-f">
<path d="M989.1,527.7L1160.7,503.1M1160.7,503.1L1320.7,547.3M1320.7,547.3L1148.6,578.6M1148.6,578.6L989.1,527.7M989.1,527.7L989.1,575.2M1148.6,578.6L1145.6,628.5M1320.7,547.3L1320.7,593.8M989.1,575.2L1145.6,628.5M1145.6,628.5L1320.7,593.8M1160.7,503.1L1160.0,541.0M989.1,575.2L1160.0,541.0M1160.0,541.0L1320.7,593.8M989.1,579.8L1145.2,634.0M1145.2,634.0L1318.5,598.5M990.5,585.5L1144.8,641.6M1144.8,641.6L1316.0,605.0M1145.6,628.5L1144.8,641.6M989.1,575.2L989.1,579.8M997.3,528.7L1162.1,504.9M1012.5,533.6L1163.5,511.2M1040.6,536.0L1177.9,515.2M1057.3,541.3L1208.5,517.8M1059.5,548.5L1210.7,524.4M1077.1,554.1L1228.3,529.3M1108.4,557.4L1245.9,534.3M1127.5,563.4L1278.9,537.3M1131.3,571.4L1282.7,544.6M1149.6,577.2L1314.9,547.3M997.3,528.7L1012.5,533.6M1162.1,504.9L1208.5,517.8M1163.5,511.2L1177.9,515.2M1040.6,536.0L1040.6,536.0M1043.6,543.5L1059.5,548.5M1026.8,538.1L1077.1,554.1M1026.8,538.1L1040.6,536.0M1057.3,541.3L1073.3,546.3M1224.5,522.2L1278.9,537.3M1228.3,529.3L1245.9,534.3M1094.6,559.7L1149.6,577.2M1094.6,559.7L1108.4,557.4M1127.5,563.4L1145.1,568.9M1282.7,544.6L1282.7,544.6M997.3,533.7L1162.1,509.9M1012.5,538.6L1163.5,516.2M1040.6,541.0L1177.9,520.2M1057.3,546.3L1208.5,522.8M1059.5,553.5L1210.7,529.4M1077.1,559.1L1228.3,534.3M1108.4,562.4L1245.9,539.3M1127.5,568.4L1278.9,542.3M1131.3,576.4L1282.7,549.6M1149.6,582.2L1314.9,552.3M997.3,533.7L1012.5,538.6M1162.1,509.9L1208.5,522.8M1163.5,516.2L1177.9,520.2M1040.6,541.0L1040.6,541.0M1043.6,548.5L1059.5,553.5M1026.8,543.1L1077.1,559.1M1026.8,543.1L1040.6,541.0M1057.3,546.3L1073.3,551.3M1224.5,527.2L1278.9,542.3M1228.3,534.3L1245.9,539.3M1094.6,564.7L1149.6,582.2M1094.6,564.7L1108.4,562.4M1127.5,568.4L1145.1,573.9M1282.7,549.6L1282.7,549.6" fill="none" stroke="#7472c0" stroke-width="0.7" opacity="0.78"/>
<path d="M1160.2,506.7C1156.2,521.9 1150.4,538.0 1146.2,541.8M1173.8,510.7C1169.9,525.7 1164.1,541.8 1160.1,545.4M1186.4,513.8C1182.5,529.5 1176.8,546.2 1173.2,550.2M1202.1,517.1C1198.2,532.3 1193.7,548.6 1192.8,552.3M1214.8,521.1C1210.7,537.4 1207.3,554.6 1208.7,558.7M1228.6,524.7C1225.2,540.9 1221.7,558.0 1224.4,562.1M1244.3,529.1C1241.6,545.1 1237.6,562.2 1240.8,566.4M1256.8,532.0C1253.1,548.0 1251.1,565.1 1256.5,569.4M1267.9,535.7C1264.6,553.4 1262.7,572.1 1269.2,576.9M1283.0,540.0C1280.0,557.4 1278.3,575.8 1285.9,580.7M1294.8,543.1C1291.5,561.1 1290.3,580.1 1298.6,585.3M1307.6,547.9C1304.2,565.9 1304.2,584.9 1314.7,589.9M1149.8,507.9C1145.6,522.8 1138.3,538.6 1130.1,542.3M1168.3,512.1C1164.3,528.2 1158.7,545.3 1154.9,549.2M1179.2,516.3C1175.5,531.4 1170.1,547.4 1167.4,551.1M1189.3,519.4C1186.4,535.2 1180.9,551.9 1180.2,555.9M1206.1,523.0C1203.2,539.6 1199.3,557.1 1202.2,561.3M1219.6,527.2C1215.6,543.5 1212.9,560.8 1216.0,565.0M1229.7,530.4C1225.8,546.9 1222.8,564.3 1225.3,568.4M1243.0,534.4C1239.3,552.3 1236.2,571.2 1238.8,575.8M1256.8,538.1C1253.5,556.2 1250.4,575.3 1254.3,580.2M1270.0,541.4C1266.1,558.4 1264.1,576.5 1269.0,581.1M1284.2,545.8C1282.1,563.7 1280.4,582.7 1290.2,587.7M1298.6,549.6C1296.0,567.4 1295.7,586.3 1307.6,591.4M1140.3,509.6C1136.8,525.5 1129.4,542.5 1122.5,546.5M1155.3,513.8C1150.6,529.5 1144.8,546.1 1139.0,549.9M1168.7,516.8C1165.8,533.5 1159.7,551.2 1157.6,555.4M1180.4,520.9C1177.0,536.5 1171.7,553.0 1170.0,556.9M1196.7,525.0C1193.3,541.8 1187.9,559.5 1186.0,563.7M1210.9,528.6C1207.3,545.2 1204.1,562.8 1207.0,567.1M1223.5,532.8C1219.6,549.5 1216.2,567.2 1218.0,571.7M1235.8,535.3C1233.4,553.1 1230.0,571.9 1235.4,576.6M1248.4,539.5C1245.6,556.1 1243.6,573.7 1251.0,578.3M1263.5,544.0C1259.9,562.6 1257.6,582.1 1262.5,587.2M1274.8,546.9C1272.4,564.3 1269.8,582.7 1276.9,587.5M1288.9,550.9C1286.2,570.1 1285.6,590.2 1296.6,595.7M1130.1,511.4C1126.6,526.8 1118.9,543.3 1111.4,547.1M1146.2,514.7C1142.4,530.6 1136.1,547.5 1131.1,551.4M1157.4,518.2C1153.7,533.7 1148.2,550.2 1145.4,554.1M1174.7,522.5C1171.1,538.6 1165.7,555.8 1163.5,559.9M1185.3,526.2C1182.3,542.7 1176.7,560.2 1175.5,564.4M1198.0,529.8C1193.8,547.5 1189.3,566.2 1187.8,570.7M1209.3,533.6C1206.5,549.7 1202.0,566.8 1203.7,571.1M1226.8,537.8C1223.1,554.3 1220.2,571.8 1223.4,576.4M1238.2,541.3C1234.8,560.0 1231.2,579.6 1233.7,584.6M1250.1,545.3C1246.9,562.7 1243.7,581.1 1247.5,585.8M1262.7,548.6C1260.4,567.0 1257.3,586.3 1263.2,591.3M1278.8,553.7C1275.7,571.5 1275.6,590.3 1286.8,595.5M1123.3,512.2C1120.0,528.6 1112.0,545.9 1104.2,549.9M1134.3,516.8C1129.7,532.0 1123.4,548.1 1116.4,552.0M1150.3,520.1C1147.0,535.5 1139.5,551.9 1132.9,555.7M1161.5,523.8C1157.8,541.2 1152.1,559.5 1148.9,563.8M1172.3,527.6C1168.4,543.4 1163.9,560.2 1162.7,564.1M1187.7,531.5C1183.8,547.7 1179.3,565.0 1178.2,569.1M1203.0,535.7C1199.0,552.3 1196.0,569.8 1198.3,574.3M1214.9,539.3C1211.9,557.5 1208.0,576.6 1210.6,581.4M1229.3,542.8C1225.8,560.9 1222.6,580.0 1225.6,584.9M1238.6,546.9C1234.8,565.4 1232.6,584.8 1237.3,589.8M1257.3,551.1C1254.2,568.8 1252.3,587.5 1259.5,592.4M1267.3,554.8C1263.9,574.3 1262.4,594.7 1269.5,600.3M1110.5,513.9C1106.4,528.8 1099.0,544.8 1090.9,548.6M1123.1,518.2C1118.5,533.9 1112.5,550.7 1106.3,554.7M1136.6,521.7C1133.0,538.3 1126.5,555.9 1121.6,560.2M1152.8,526.1C1149.3,542.4 1142.4,559.8 1136.7,563.9M1164.8,528.7C1161.6,546.4 1156.0,565.1 1154.3,569.6M1178.6,533.3C1175.1,551.2 1170.2,570.1 1169.3,574.7M1193.3,537.2C1189.6,554.0 1185.6,571.8 1186.3,576.1M1206.6,541.4C1203.2,559.3 1199.4,578.1 1201.3,583.0M1220.6,545.1C1216.6,562.9 1214.1,581.7 1217.5,586.6M1229.0,548.8C1226.1,566.3 1222.2,584.8 1225.0,589.7M1244.5,552.7C1241.7,570.9 1239.2,590.1 1245.4,595.4M1255.3,556.3C1252.3,574.2 1249.9,593.1 1256.2,598.3M1099.1,515.1C1094.6,531.7 1087.1,549.2 1077.8,553.5M1114.8,519.3C1111.4,535.0 1102.7,551.6 1093.1,555.6M1126.4,522.7C1121.9,540.0 1115.1,558.3 1107.3,562.7M1142.2,527.8C1139.2,544.9 1132.9,563.0 1129.8,567.3M1156.3,531.4C1153.1,549.3 1146.6,568.3 1142.8,572.8M1164.5,534.7C1160.2,552.0 1155.5,570.3 1153.2,574.7M1182.3,538.4C1178.2,554.8 1174.3,572.1 1174.1,576.6M1197.4,542.7C1194.8,559.9 1189.9,578.2 1191.0,582.8M1207.5,546.5C1204.7,563.9 1200.5,582.4 1202.8,587.0M1222.2,551.2C1218.7,568.8 1215.5,587.5 1218.5,592.4M1237.7,554.6C1234.7,573.3 1232.1,593.0 1237.7,598.4M1247.5,557.6C1244.1,576.1 1242.3,595.5 1248.8,600.9M1091.8,517.6C1087.9,534.1 1079.5,551.5 1069.7,555.7M1104.7,520.5C1100.0,536.7 1092.9,553.9 1084.0,558.0M1118.8,524.2C1115.8,541.0 1108.7,558.8 1103.7,563.1M1128.9,528.5C1124.6,544.7 1118.4,561.8 1112.4,565.9M1146.8,532.5C1143.1,550.2 1137.4,569.0 1134.1,573.5M1155.8,536.7C1152.0,553.7 1145.7,571.6 1140.8,576.1M1171.8,541.1C1168.1,558.3 1163.4,576.5 1162.7,581.0M1187.7,544.6C1185.0,561.3 1180.7,579.1 1182.8,583.7M1196.4,548.8C1193.6,566.6 1188.9,585.5 1189.9,590.5M1208.9,552.3C1206.3,569.7 1202.2,588.2 1205.4,593.2M1226.5,556.2C1223.6,574.5 1219.9,593.9 1223.2,599.1M1240.3,560.5C1237.5,578.7 1235.3,597.9 1242.1,603.2M1078.3,518.2C1073.5,534.9 1065.4,552.7 1054.0,557.0M1092.2,521.9C1088.5,538.7 1079.7,556.4 1069.4,560.8M1106.1,526.2C1101.2,544.2 1094.3,563.3 1085.4,567.8M1121.8,530.5C1117.5,547.2 1111.6,565.0 1106.5,569.4M1133.9,534.1C1130.5,551.9 1124.7,570.8 1122.0,575.4M1148.9,537.5C1144.6,554.7 1138.9,572.8 1134.2,577.3M1162.5,541.6C1158.7,559.4 1153.7,578.1 1151.9,582.8M1175.0,546.9C1171.0,564.7 1167.6,583.5 1169.0,588.4M1185.9,549.7C1183.2,568.7 1177.9,588.8 1177.9,594.1M1199.4,554.1C1196.2,573.5 1191.4,593.9 1191.5,599.2M1213.5,558.0C1210.1,575.8 1207.4,594.6 1211.8,599.6M1228.5,561.2C1226.0,579.2 1223.3,598.2 1229.9,603.6M1069.6,519.3C1064.9,536.0 1055.8,553.6 1042.2,557.8M1082.6,523.4C1077.5,541.1 1069.4,559.8 1057.1,564.3M1098.7,528.5C1094.1,546.3 1086.5,565.2 1076.6,569.7M1110.9,532.1C1106.1,550.1 1099.9,569.0 1093.2,573.5M1126.8,536.2C1123.0,554.8 1117.0,574.4 1112.7,579.1M1139.3,540.4C1136.2,557.7 1129.7,575.9 1125.9,580.5M1153.5,544.0C1149.5,562.7 1144.1,582.4 1141.0,587.4M1165.3,547.5C1161.4,564.6 1157.3,582.7 1157.2,587.5M1176.4,551.2C1173.6,569.1 1168.1,588.0 1167.4,593.1M1188.0,555.6C1184.1,574.1 1180.1,593.6 1180.4,598.8M1205.7,559.8C1201.8,579.1 1198.8,599.3 1201.3,604.9M1217.4,563.5C1213.7,582.0 1210.7,601.6 1213.7,607.0M1061.6,520.7C1058.0,537.9 1048.4,556.2 1036.4,560.6M1074.9,524.8C1070.4,542.4 1061.2,561.0 1047.9,565.5M1091.0,529.5C1086.3,545.9 1079.0,563.3 1069.5,567.5M1103.4,533.2C1098.9,550.5 1091.7,568.8 1083.2,573.3M1114.7,538.2C1110.5,556.2 1103.7,575.3 1096.6,580.0M1125.8,541.3C1121.0,559.4 1115.1,578.6 1108.8,583.4M1140.6,545.9C1137.0,563.6 1131.7,582.3 1129.5,587.1M1152.6,549.1C1148.2,567.5 1142.8,586.9 1138.7,591.8M1166.6,553.6C1163.0,571.6 1157.3,590.6 1154.4,595.6M1182.3,557.2C1179.2,577.0 1174.4,597.7 1174.5,603.1M1194.2,560.7C1191.4,579.3 1186.6,598.8 1187.4,604.2M1204.5,565.6C1200.6,584.6 1198.2,604.7 1202.3,610.4M1050.8,522.6C1047.1,539.2 1037.4,556.8 1024.9,561.1M1065.8,526.6C1062.2,545.2 1052.7,564.7 1040.9,569.3M1076.0,531.2C1072.0,549.8 1064.1,569.5 1055.2,574.3M1091.1,534.4C1087.6,551.5 1079.9,569.7 1072.6,574.2M1103.0,538.8C1098.5,556.7 1091.7,575.7 1084.1,580.4M1117.4,543.8C1113.9,562.1 1106.1,581.5 1098.4,586.2M1131.7,547.2C1128.0,565.8 1121.9,585.3 1117.7,590.3M1144.8,551.4C1141.2,569.7 1136.1,589.0 1134.5,594.0M1159.9,555.4C1155.7,573.8 1151.5,593.3 1150.6,598.4M1169.1,559.5C1165.7,578.1 1160.3,597.7 1158.4,602.9M1186.4,563.5C1182.9,582.3 1179.5,602.2 1182.1,607.7M1197.7,566.8C1193.9,586.9 1191.0,608.1 1194.0,614.0M1043.0,524.0C1039.3,542.4 1029.8,561.9 1017.6,566.7M1055.0,528.0C1050.9,544.9 1040.8,562.8 1026.5,567.3M1069.5,532.2C1065.0,549.3 1057.1,567.5 1046.9,571.9M1078.5,536.4C1073.8,555.4 1066.6,575.4 1057.5,580.4M1093.0,540.1C1089.2,558.6 1082.3,578.0 1075.8,582.9M1107.5,545.4C1104.0,564.9 1096.4,585.3 1089.0,590.5M1123.2,549.3C1118.7,567.4 1112.5,586.5 1106.3,591.5M1133.9,552.1C1130.3,570.1 1124.4,589.0 1121.1,594.1M1144.8,557.1C1141.1,574.7 1136.0,593.3 1134.2,598.3M1160.9,561.8C1156.4,580.0 1151.6,599.2 1148.6,604.4M1172.1,564.8C1168.1,583.1 1164.1,602.4 1164.1,607.8M1185.9,569.5C1181.9,589.7 1178.6,610.9 1180.1,616.7M1033.7,526.0C1029.3,543.5 1019.1,562.1 1003.7,566.6M1044.4,529.6C1039.5,547.3 1030.3,566.1 1016.1,570.8M1056.1,533.4C1052.1,551.2 1042.6,570.0 1030.0,574.6M1073.0,537.9C1068.9,555.2 1061.2,573.5 1052.2,578.1M1084.1,542.8C1080.6,560.7 1072.1,579.6 1062.8,584.2M1096.4,546.9C1092.6,566.2 1084.7,586.5 1076.2,591.6M1108.2,550.4C1104.7,568.3 1097.7,587.3 1091.9,592.1M1126.4,554.8C1123.0,573.0 1116.1,592.1 1110.9,597.2M1137.2,558.3C1132.7,578.2 1128.3,599.1 1126.3,604.7M1150.8,562.4C1147.6,582.3 1141.3,603.3 1137.9,609.0M1164.8,566.4C1162.0,585.7 1156.4,606.1 1155.7,611.7M1179.5,571.3C1176.3,591.4 1172.4,612.5 1174.4,618.4M1020.4,526.7C1014.8,543.8 1004.6,561.8 991.1,566.3M1035.3,531.9C1031.1,549.3 1021.1,567.6 1006.8,572.1M1049.3,535.6C1045.4,552.8 1035.6,571.1 1022.2,575.6M1060.6,540.4C1055.7,559.7 1047.8,579.9 1036.7,585.1M1070.8,543.6C1067.0,563.0 1058.3,583.3 1047.9,588.4M1085.0,548.0C1080.5,565.6 1072.6,584.3 1062.3,589.1M1097.9,551.7C1093.5,569.9 1086.2,589.1 1077.7,594.1M1115.5,556.0C1111.6,575.1 1105.4,595.2 1100.5,600.4M1127.6,560.1C1123.3,579.1 1118.4,599.1 1115.4,604.5M1137.3,564.6C1132.8,582.9 1128.1,602.3 1125.0,607.7M1155.2,568.5C1152.0,586.9 1146.3,606.3 1144.4,611.7M1168.1,573.6C1163.9,592.2 1159.9,611.8 1159.5,617.5M1010.5,527.9C1005.5,546.6 995.0,566.3 991.1,571.2M1025.4,532.5C1020.1,549.8 1009.8,568.2 992.0,572.7M1039.0,537.5C1034.3,555.7 1024.4,574.9 1008.9,579.7M1052.8,541.3C1047.9,560.2 1039.7,580.1 1027.7,585.1M1065.7,545.4C1061.6,563.3 1053.6,582.2 1044.1,587.0M1078.8,549.3C1075.0,567.4 1066.9,586.5 1057.9,591.4M1087.9,553.6C1083.3,571.9 1076.5,591.1 1068.4,596.2M1104.7,557.3C1100.3,576.7 1094.7,597.2 1090.1,602.7M1120.3,562.5C1116.6,582.2 1109.8,602.8 1103.8,608.3M1129.0,566.1C1125.5,584.1 1119.5,603.2 1116.2,608.5M1144.2,570.7C1140.9,589.1 1134.9,608.5 1131.8,614.0M1157.2,574.6C1153.9,594.6 1148.6,615.6 1147.1,621.4M1002.7,530.3C997.8,549.6 987.0,569.9 991.1,575.0M1012.9,534.7C1008.4,553.1 997.7,572.6 991.1,577.5M1026.9,538.5C1023.1,557.4 1012.8,577.4 998.5,582.4M1042.4,542.8C1037.3,561.2 1029.4,580.7 1017.7,585.7M1053.8,546.4C1049.5,566.3 1040.4,587.1 1027.7,592.3M1068.1,551.5C1063.7,570.7 1055.3,591.0 1044.0,596.2M1080.2,555.0C1076.7,573.7 1067.4,593.4 1056.3,598.6M1091.2,559.3C1087.1,578.1 1080.1,598.0 1072.9,603.2M1105.6,563.9C1101.7,582.4 1094.9,601.9 1088.6,607.4M1121.1,568.6C1117.9,587.2 1111.7,606.7 1108.4,612.2M1133.9,572.3C1130.2,591.0 1123.6,610.7 1118.4,616.2M1148.1,577.0C1144.9,595.9 1138.9,615.9 1136.0,621.6" fill="none" stroke="#6cc0ca" stroke-width="0.75" opacity="0.85"/>
<path d="M1152.2,531.2L1152.2,525.8Q1154.4,525.8 1155.9,527.3ZM1165.1,537.0L1165.1,531.6Q1167.3,531.6 1168.8,533.2ZM1177.7,541.6L1177.7,536.2Q1179.9,536.1 1181.4,537.7ZM1195.0,543.8L1194.4,538.4Q1196.5,538.1 1198.2,539.5ZM1209.2,547.3L1208.0,542.1Q1210.2,541.5 1212.0,542.7ZM1223.8,551.5L1222.4,546.3Q1224.5,545.6 1226.4,546.8ZM1239.8,556.9L1238.3,551.8Q1240.4,551.1 1242.3,552.2ZM1253.2,559.2L1251.2,554.2Q1253.2,553.3 1255.2,554.2ZM1265.0,566.0L1262.8,561.1Q1264.7,560.1 1266.8,560.9ZM1280.8,569.8L1278.4,564.9Q1280.3,563.9 1282.4,564.6ZM1292.7,573.0L1290.2,568.2Q1292.2,567.1 1294.2,567.8ZM1306.8,578.9L1303.9,574.4Q1305.6,573.1 1307.8,573.6ZM1139.3,533.1L1140.1,527.8Q1142.3,528.0 1143.5,529.8ZM1159.7,540.2L1159.6,534.8Q1161.8,534.7 1163.3,536.3ZM1171.5,542.1L1171.2,536.7Q1173.4,536.6 1175.0,538.1ZM1182.7,546.6L1182.1,541.3Q1184.3,540.9 1186.0,542.3ZM1201.4,552.0L1199.9,546.8Q1202.0,546.2 1203.9,547.3ZM1214.8,553.5L1213.4,548.4Q1215.4,547.7 1217.3,548.8ZM1224.7,557.0L1223.3,551.8Q1225.4,551.2 1227.3,552.3ZM1238.1,563.9L1236.7,558.7Q1238.8,558.0 1240.7,559.1ZM1252.6,567.1L1251.0,562.0Q1253.1,561.2 1255.0,562.3ZM1266.1,571.5L1264.1,566.5Q1266.1,565.6 1268.1,566.4ZM1283.4,577.0L1280.7,572.4Q1282.5,571.2 1284.6,571.7ZM1298.7,580.4L1295.6,576.0Q1297.4,574.6 1299.5,575.0ZM1130.3,537.2L1130.9,531.8Q1133.1,532.0 1134.4,533.7ZM1146.1,539.6L1146.3,534.2Q1148.5,534.2 1150.0,535.8ZM1161.2,546.1L1160.8,540.8Q1163.0,540.5 1164.6,542.0ZM1173.0,548.3L1172.6,543.0Q1174.8,542.7 1176.4,544.2ZM1189.2,554.3L1188.7,548.9Q1190.9,548.6 1192.6,550.1ZM1206.0,557.5L1204.5,552.3Q1206.5,551.6 1208.5,552.7ZM1218.1,559.9L1216.9,554.7Q1219.0,554.1 1220.8,555.3ZM1232.5,565.6L1230.6,560.6Q1232.6,559.7 1234.6,560.7ZM1246.1,567.7L1243.8,562.8Q1245.7,561.8 1247.8,562.6ZM1259.7,574.4L1257.8,569.3Q1259.8,568.5 1261.8,569.4ZM1272.4,575.8L1270.2,570.8Q1272.2,569.9 1274.2,570.7ZM1288.3,582.9L1285.5,578.3Q1287.3,577.1 1289.4,577.7ZM1120.7,536.5L1121.3,531.2Q1123.5,531.3 1124.9,533.0ZM1137.1,542.2L1137.3,536.8Q1139.5,536.8 1140.9,538.4ZM1149.7,544.6L1149.4,539.2Q1151.6,539.0 1153.2,540.5ZM1167.2,550.3L1166.8,544.9Q1168.9,544.7 1170.6,546.1ZM1178.2,555.2L1177.7,549.9Q1179.8,549.5 1181.5,551.0ZM1190.9,559.2L1190.2,553.9Q1192.3,553.5 1194.0,554.8ZM1204.3,559.9L1203.2,554.6Q1205.3,554.1 1207.1,555.3ZM1222.0,567.0L1220.4,561.9Q1222.4,561.1 1224.4,562.2ZM1233.2,572.5L1231.8,567.3Q1233.9,566.6 1235.8,567.8ZM1245.8,574.4L1244.2,569.3Q1246.3,568.5 1248.2,569.6ZM1259.8,580.2L1257.8,575.2Q1259.8,574.3 1261.8,575.2ZM1278.0,582.4L1275.2,577.8Q1277.0,576.6 1279.1,577.2ZM1113.3,539.7L1113.9,534.4Q1116.1,534.6 1117.4,536.3ZM1123.7,543.5L1124.3,538.2Q1126.5,538.3 1127.8,540.1ZM1141.0,545.9L1141.5,540.6Q1143.7,540.7 1145.0,542.4ZM1153.9,552.1L1153.6,546.7Q1155.8,546.5 1157.4,547.9ZM1165.2,555.0L1164.6,549.7Q1166.8,549.3 1168.5,550.7ZM1181.2,557.5L1180.5,552.2Q1182.6,551.8 1184.4,553.2ZM1197.7,564.6L1196.2,559.4Q1198.3,558.7 1200.2,559.9ZM1210.0,571.2L1208.5,566.0Q1210.6,565.3 1212.5,566.4ZM1224.7,571.7L1223.2,566.5Q1225.3,565.8 1227.2,566.9ZM1234.6,578.8L1232.7,573.8Q1234.7,572.9 1236.7,573.9ZM1254.6,579.8L1252.5,574.9Q1254.5,573.9 1256.5,574.7ZM1264.8,588.8L1262.4,583.9Q1264.3,582.9 1266.4,583.6ZM1100.6,538.4L1101.3,533.0Q1103.5,533.2 1104.8,535.0ZM1114.2,543.4L1114.3,538.0Q1116.5,538.0 1118.0,539.7ZM1127.8,550.2L1127.8,544.8Q1130.0,544.7 1131.5,546.3ZM1143.6,553.9L1143.9,548.5Q1146.1,548.5 1147.5,550.2ZM1158.2,557.2L1157.6,551.8Q1159.7,551.5 1161.4,552.9ZM1171.7,564.4L1170.9,559.1Q1173.1,558.7 1174.8,560.0ZM1187.6,564.3L1186.5,559.1Q1188.7,558.5 1190.5,559.8ZM1201.6,569.8L1200.3,564.6Q1202.4,564.0 1204.3,565.1ZM1215.9,575.7L1214.2,570.6Q1216.3,569.8 1218.2,570.8ZM1224.2,579.6L1222.7,574.5Q1224.8,573.8 1226.7,574.9ZM1241.6,583.7L1239.5,578.7Q1241.5,577.8 1243.5,578.7ZM1252.3,584.8L1250.3,579.8Q1252.3,578.9 1254.3,579.8ZM1088.1,542.8L1088.8,537.5Q1091.0,537.7 1092.3,539.4ZM1103.2,546.6L1104.3,541.4Q1106.5,541.7 1107.7,543.6ZM1116.6,550.7L1116.9,545.3Q1119.1,545.4 1120.6,547.0ZM1135.0,555.4L1134.7,550.0Q1136.9,549.8 1138.5,551.3ZM1148.4,561.2L1148.1,555.9Q1150.3,555.7 1151.9,557.2ZM1157.1,563.2L1156.5,557.9Q1158.7,557.6 1160.3,559.0ZM1175.6,567.3L1174.7,562.0Q1176.8,561.5 1178.6,562.8ZM1192.0,571.9L1190.9,566.7Q1193.1,566.1 1194.9,567.4ZM1202.7,575.2L1201.4,569.9Q1203.5,569.3 1205.4,570.5ZM1217.4,582.2L1215.8,577.1Q1217.9,576.3 1219.8,577.4ZM1234.4,586.6L1232.4,581.6Q1234.4,580.7 1236.4,581.6ZM1244.4,587.1L1242.4,582.1Q1244.4,581.2 1246.4,582.0ZM1079.9,546.3L1080.9,541.0Q1083.1,541.4 1084.3,543.2ZM1094.4,546.7L1095.0,541.3Q1097.2,541.5 1098.5,543.2ZM1110.4,552.2L1110.5,546.8Q1112.7,546.7 1114.2,548.3ZM1119.9,555.0L1120.1,549.6Q1122.2,549.6 1123.7,551.2ZM1139.1,561.8L1138.7,556.4Q1140.9,556.1 1142.5,557.6ZM1147.0,565.5L1147.0,560.1Q1149.2,560.0 1150.7,561.6ZM1164.8,571.3L1164.0,566.0Q1166.2,565.5 1167.9,566.9ZM1182.8,572.8L1181.6,567.6Q1183.7,567.0 1185.5,568.2ZM1190.7,580.2L1189.6,574.9Q1191.7,574.4 1193.5,575.6ZM1204.5,582.3L1203.0,577.2Q1205.1,576.5 1207.0,577.6ZM1222.2,586.1L1220.7,580.9Q1222.8,580.2 1224.7,581.3ZM1237.7,591.7L1235.5,586.8Q1237.5,585.8 1239.5,586.6ZM1066.1,546.3L1067.1,541.0Q1069.3,541.4 1070.5,543.2ZM1081.0,549.7L1082.0,544.4Q1084.2,544.7 1085.4,546.5ZM1095.3,556.1L1095.7,550.7Q1097.9,550.8 1099.3,552.5ZM1113.5,557.2L1113.4,551.8Q1115.6,551.7 1117.1,553.3ZM1126.4,563.9L1126.0,558.5Q1128.2,558.3 1129.8,559.7ZM1139.9,567.0L1139.8,561.6Q1142.0,561.5 1143.6,563.1ZM1155.2,571.8L1154.6,566.5Q1156.8,566.1 1158.5,567.5ZM1169.5,575.3L1168.3,570.1Q1170.4,569.5 1172.3,570.7ZM1179.7,582.8L1178.8,577.5Q1180.9,577.0 1182.7,578.3ZM1193.4,585.9L1192.4,580.6Q1194.6,580.1 1196.4,581.4ZM1209.5,589.3L1207.6,584.2Q1209.6,583.4 1211.6,584.3ZM1225.8,591.3L1223.7,586.3Q1225.7,585.4 1227.7,586.2ZM1055.8,547.9L1057.3,542.8Q1059.4,543.3 1060.4,545.2ZM1071.0,551.4L1071.9,546.0Q1074.0,546.3 1075.3,548.1ZM1086.7,559.4L1087.5,554.0Q1089.7,554.3 1091.0,556.1ZM1100.7,562.7L1100.9,557.3Q1103.1,557.3 1104.5,558.9ZM1118.0,568.5L1117.8,563.2Q1120.0,563.0 1121.6,564.5ZM1131.7,568.4L1131.5,563.0Q1133.7,562.8 1135.3,564.3ZM1145.8,574.5L1145.3,569.2Q1147.5,568.9 1149.2,570.3ZM1159.2,575.0L1158.2,569.7Q1160.4,569.2 1162.2,570.5ZM1170.3,580.5L1169.5,575.1Q1171.6,574.7 1173.4,576.1ZM1181.9,586.2L1180.8,581.0Q1182.9,580.4 1184.7,581.7ZM1200.6,593.0L1199.0,587.9Q1201.1,587.1 1203.0,588.2ZM1212.7,593.7L1211.1,588.5Q1213.2,587.8 1215.1,588.9ZM1049.7,549.2L1050.8,544.0Q1053.0,544.4 1054.2,546.2ZM1061.5,554.8L1062.8,549.6Q1064.9,550.0 1066.0,551.9ZM1079.1,558.2L1080.0,552.9Q1082.2,553.1 1083.4,555.0ZM1092.4,562.8L1093.0,557.5Q1095.2,557.6 1096.5,559.3ZM1105.4,567.1L1105.6,561.7Q1107.8,561.7 1109.3,563.3ZM1116.4,571.0L1116.4,565.6Q1118.6,565.5 1120.1,567.0ZM1133.7,574.2L1133.1,568.8Q1135.3,568.5 1137.0,569.9ZM1144.0,580.3L1143.7,575.0Q1145.8,574.7 1147.4,576.2ZM1159.1,583.2L1158.7,577.9Q1160.8,577.6 1162.5,579.0ZM1176.5,589.0L1175.5,583.7Q1177.6,583.2 1179.4,584.4ZM1188.7,591.6L1187.6,586.3Q1189.7,585.8 1191.5,587.0ZM1200.2,597.8L1198.3,592.8Q1200.4,591.9 1202.3,592.9ZM1039.4,549.0L1040.5,543.8Q1042.7,544.1 1043.9,546.0ZM1053.1,558.6L1054.2,553.3Q1056.3,553.6 1057.5,555.5ZM1064.9,563.0L1065.5,557.6Q1067.6,557.8 1069.0,559.5ZM1081.8,562.1L1082.2,556.7Q1084.4,556.7 1085.8,558.4ZM1092.6,569.3L1092.9,563.9Q1095.1,564.0 1096.5,565.6ZM1108.2,573.0L1108.4,567.6Q1110.6,567.6 1112.1,569.3ZM1123.5,577.8L1123.3,572.5Q1125.4,572.3 1127.0,573.8ZM1138.0,581.1L1137.3,575.8Q1139.5,575.4 1141.2,576.7ZM1153.3,585.0L1152.4,579.7Q1154.6,579.2 1156.3,580.5ZM1162.4,589.2L1161.7,583.8Q1163.9,583.5 1165.6,584.8ZM1181.4,596.5L1179.8,591.3Q1181.9,590.6 1183.8,591.6ZM1192.8,601.9L1191.2,596.8Q1193.2,596.0 1195.1,597.0ZM1032.0,553.0L1032.8,547.7Q1035.0,547.9 1036.2,549.7ZM1042.7,555.0L1044.0,549.8Q1046.1,550.2 1047.2,552.1ZM1059.0,559.3L1059.6,554.0Q1061.8,554.2 1063.1,555.9ZM1067.2,568.7L1067.7,563.3Q1069.9,563.4 1071.3,565.1ZM1083.6,571.0L1083.7,565.6Q1085.9,565.5 1087.4,567.2ZM1098.3,576.8L1098.4,571.4Q1100.6,571.3 1102.1,572.9ZM1113.5,580.2L1113.5,574.8Q1115.7,574.8 1117.2,576.4ZM1125.9,582.6L1125.5,577.3Q1127.7,577.0 1129.3,578.5ZM1137.7,586.7L1137.0,581.3Q1139.2,581.0 1140.9,582.4ZM1153.1,591.8L1152.6,586.4Q1154.7,586.1 1156.4,587.5ZM1165.7,595.8L1164.7,590.6Q1166.8,590.0 1168.6,591.3ZM1180.3,603.5L1178.9,598.3Q1181.0,597.6 1182.9,598.7ZM1019.9,555.1L1021.4,549.9Q1023.5,550.4 1024.5,552.4ZM1030.3,560.1L1031.6,554.9Q1033.8,555.3 1034.9,557.3ZM1044.8,561.3L1045.7,556.0Q1047.9,556.3 1049.1,558.2ZM1062.1,567.1L1062.8,561.8Q1064.9,561.9 1066.3,563.7ZM1073.0,573.3L1073.8,568.0Q1075.9,568.2 1077.2,569.9ZM1086.2,578.6L1086.6,573.2Q1088.8,573.3 1090.2,574.9ZM1099.0,580.9L1099.1,575.5Q1101.3,575.4 1102.8,577.1ZM1117.7,585.1L1117.7,579.8Q1119.8,579.6 1121.4,581.2ZM1130.0,590.5L1129.2,585.2Q1131.3,584.7 1133.1,586.1ZM1143.3,594.8L1142.8,589.5Q1145.0,589.2 1146.7,590.6ZM1158.5,598.5L1157.7,593.1Q1159.8,592.7 1161.6,594.0ZM1174.5,604.0L1173.1,598.8Q1175.2,598.2 1177.1,599.3ZM1006.9,553.8L1008.2,548.6Q1010.4,549.0 1011.5,550.9ZM1021.9,560.9L1023.3,555.7Q1025.4,556.2 1026.5,558.2ZM1036.0,565.0L1037.4,559.8Q1039.5,560.3 1040.6,562.2ZM1049.3,571.2L1049.9,565.8Q1052.1,565.9 1053.4,567.7ZM1059.5,575.9L1060.1,570.5Q1062.3,570.7 1063.6,572.5ZM1073.8,577.1L1074.5,571.7Q1076.7,571.9 1078.0,573.7ZM1086.7,583.3L1087.2,578.0Q1089.4,578.1 1090.8,579.8ZM1106.6,588.6L1106.4,583.2Q1108.6,583.0 1110.2,584.6ZM1119.5,592.8L1118.9,587.4Q1121.1,587.1 1122.8,588.5ZM1129.4,595.2L1128.9,589.8Q1131.0,589.5 1132.7,590.9ZM1148.4,598.5L1147.8,593.2Q1149.9,592.8 1151.6,594.2ZM1161.5,605.2L1160.4,599.9Q1162.6,599.4 1164.4,600.7ZM998.5,558.5L999.0,553.2Q1001.1,553.2 1002.5,554.9ZM1011.0,560.3L1012.7,555.2Q1014.8,555.8 1015.8,557.7ZM1025.2,567.5L1026.6,562.3Q1028.7,562.8 1029.8,564.7ZM1039.9,573.5L1040.8,568.2Q1043.0,568.5 1044.3,570.3ZM1055.5,574.0L1056.0,568.6Q1058.2,568.7 1059.5,570.4ZM1067.7,580.4L1068.3,575.0Q1070.5,575.2 1071.8,576.9ZM1077.8,583.4L1078.1,578.0Q1080.3,578.0 1081.7,579.7ZM1096.2,589.2L1095.8,583.8Q1098.0,583.5 1099.7,585.0ZM1111.8,593.7L1111.7,588.3Q1113.9,588.1 1115.4,589.7ZM1121.2,596.3L1120.8,590.9Q1123.0,590.6 1124.7,592.1ZM1136.2,602.8L1135.8,597.4Q1138.0,597.1 1139.6,598.6ZM1150.1,609.0L1149.3,603.7Q1151.5,603.3 1153.2,604.6ZM992.3,561.6L992.0,556.3Q994.2,556.0 995.8,557.5ZM1001.0,564.4L1001.7,559.0Q1003.9,559.2 1005.2,561.0ZM1014.7,568.6L1015.8,563.3Q1018.0,563.6 1019.2,565.5ZM1030.2,573.4L1031.0,568.1Q1033.2,568.3 1034.5,570.1ZM1041.5,579.1L1042.3,573.8Q1044.5,574.0 1045.8,575.8ZM1055.6,584.6L1056.4,579.3Q1058.6,579.5 1059.8,581.3ZM1069.1,585.4L1069.9,580.1Q1072.1,580.3 1073.3,582.1ZM1081.2,591.2L1081.4,585.8Q1083.6,585.8 1085.0,587.4ZM1096.7,593.8L1096.7,588.4Q1098.9,588.3 1100.4,589.9ZM1113.3,600.0L1112.9,594.6Q1115.1,594.4 1116.8,595.8ZM1124.8,604.4L1124.7,599.0Q1126.9,598.9 1128.4,600.4ZM1140.8,608.1L1140.3,602.7Q1142.5,602.4 1144.1,603.9Z" fill="#27a3ad"/>
</g>
<g id="panel-labels">
<text class="lbl" x="49.5" y="49.6">a</text>
<text class="lbl" x="543" y="49.6">b</text>
<text class="lbl" x="905.5" y="49.4">c</text>
<text class="lbl" x="49.5" y="420.8">d</text>
<text class="lbl" x="501.5" y="420.8">e</text>
<text class="lbl" x="983" y="420.6">f</text>

</g>
</svg>
</body>
</html>
